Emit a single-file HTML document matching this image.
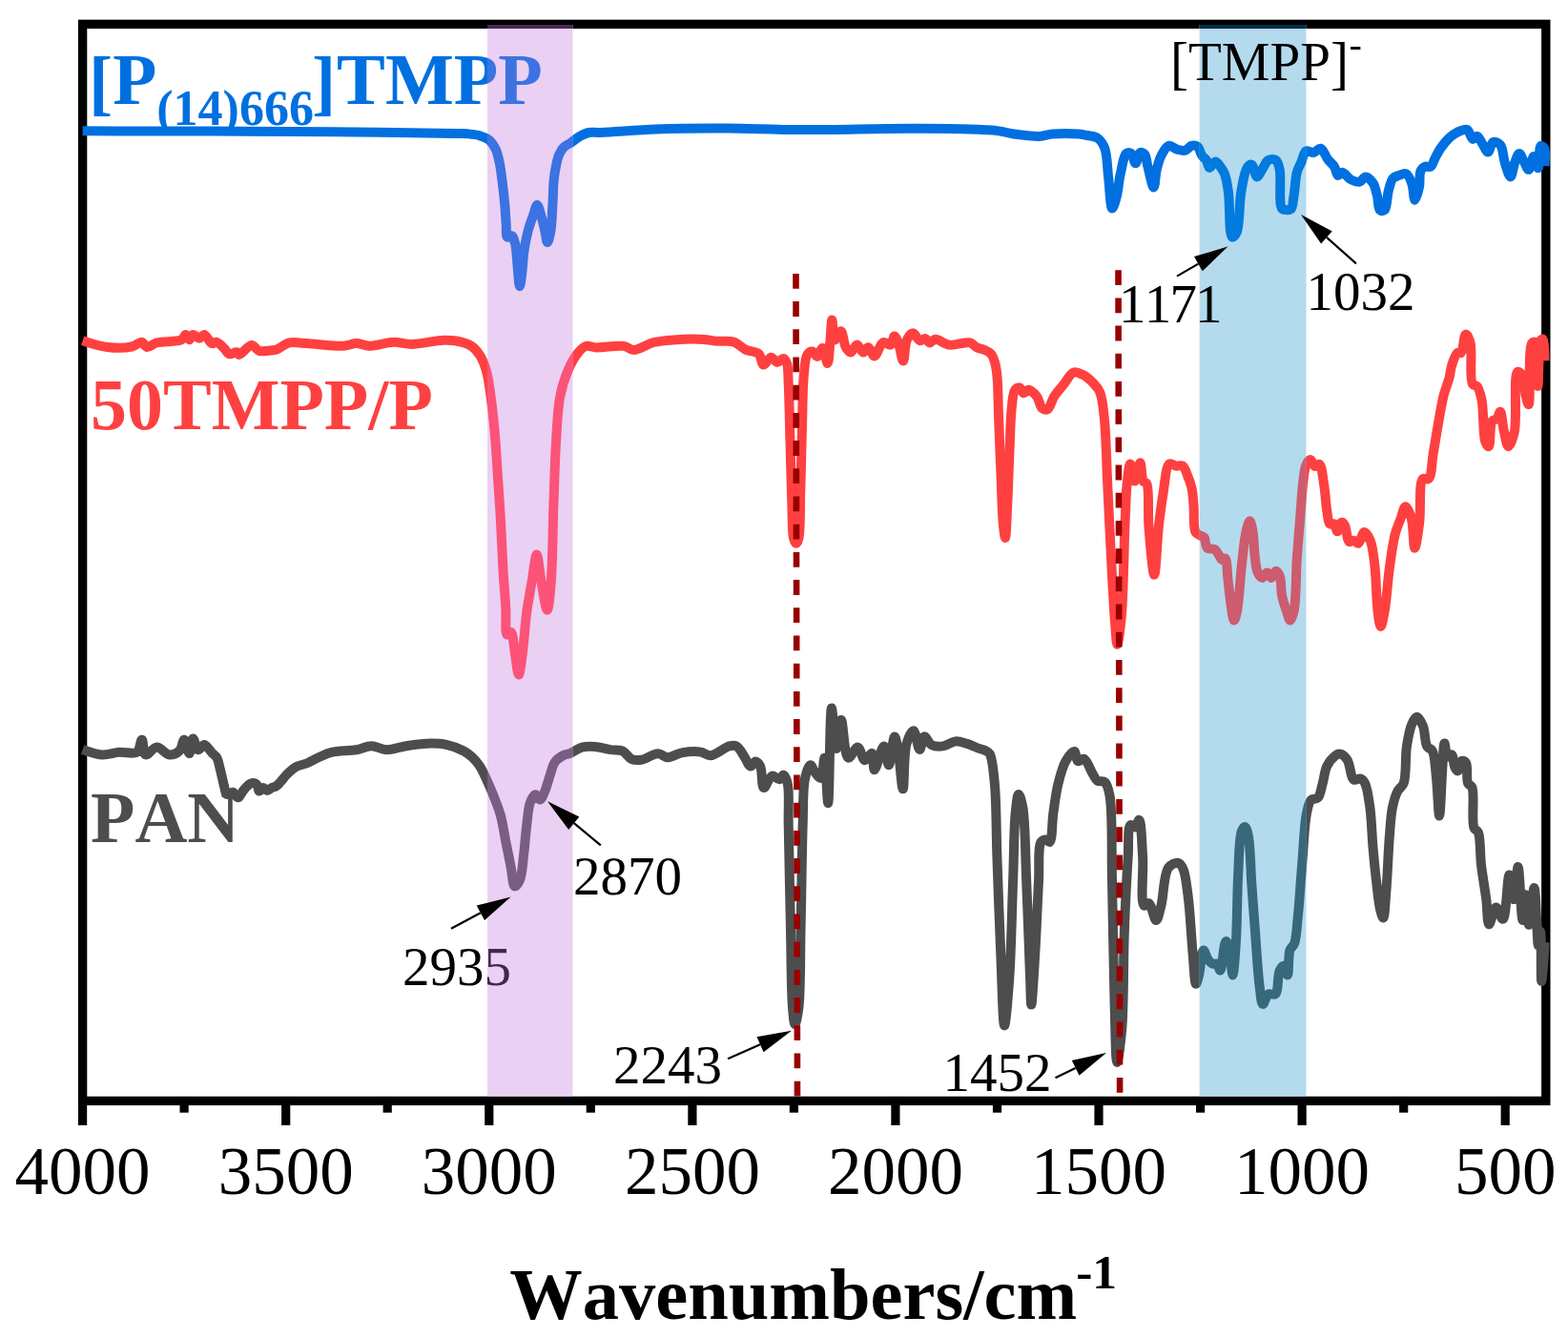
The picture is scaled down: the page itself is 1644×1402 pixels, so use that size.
<!DOCTYPE html><html><head><meta charset="utf-8"><title>FTIR</title>
<style>html,body{margin:0;padding:0;background:#fff;}svg{display:block;}text{font-family:'Liberation Serif','Times New Roman',serif;font-kerning:none;}</style></head><body>
<svg width="1644" height="1402" viewBox="0 0 1644 1402">
<rect x="0" y="0" width="1644" height="1402" fill="#fff"/>
<rect x="86.6" y="25.35" width="1534.2" height="1129.05" fill="none" stroke="#000" stroke-width="9.4"/>
<line x1="1578.2" y1="1155" x2="1578.2" y2="1180" stroke="#000" stroke-width="9.2"/>
<line x1="1471.7" y1="1155" x2="1471.7" y2="1166.7" stroke="#000" stroke-width="9.2"/>
<line x1="1365.1" y1="1155" x2="1365.1" y2="1180" stroke="#000" stroke-width="9.2"/>
<line x1="1258.6" y1="1155" x2="1258.6" y2="1166.7" stroke="#000" stroke-width="9.2"/>
<line x1="1152.0" y1="1155" x2="1152.0" y2="1180" stroke="#000" stroke-width="9.2"/>
<line x1="1045.5" y1="1155" x2="1045.5" y2="1166.7" stroke="#000" stroke-width="9.2"/>
<line x1="938.9" y1="1155" x2="938.9" y2="1180" stroke="#000" stroke-width="9.2"/>
<line x1="832.4" y1="1155" x2="832.4" y2="1166.7" stroke="#000" stroke-width="9.2"/>
<line x1="725.9" y1="1155" x2="725.9" y2="1180" stroke="#000" stroke-width="9.2"/>
<line x1="619.3" y1="1155" x2="619.3" y2="1166.7" stroke="#000" stroke-width="9.2"/>
<line x1="512.8" y1="1155" x2="512.8" y2="1180" stroke="#000" stroke-width="9.2"/>
<line x1="406.2" y1="1155" x2="406.2" y2="1166.7" stroke="#000" stroke-width="9.2"/>
<line x1="299.7" y1="1155" x2="299.7" y2="1180" stroke="#000" stroke-width="9.2"/>
<line x1="193.1" y1="1155" x2="193.1" y2="1166.7" stroke="#000" stroke-width="9.2"/>
<line x1="86.6" y1="1155" x2="86.6" y2="1180" stroke="#000" stroke-width="9.2"/>
<path d="M86.6,786.0 C86.6,786.0 100.3,791.0 106.9,791.4 C113.1,791.8 119.1,789.2 125.2,788.8 C131.3,788.4 139.6,791.4 143.5,788.8 C146.9,786.5 147.3,775.6 148.8,775.7 C150.4,775.8 149.9,790.3 152.7,791.4 C155.3,792.4 160.4,783.6 164.5,783.5 C168.7,783.4 173.4,791.0 177.6,791.4 C181.2,791.7 185.4,789.9 188.0,787.5 C190.8,784.9 191.5,775.6 193.2,775.7 C195.0,775.8 197.0,790.2 198.5,790.1 C200.1,790.0 200.8,774.5 202.4,774.4 C203.9,774.3 205.3,785.6 207.6,786.2 C209.4,786.7 212.0,780.7 214.2,780.9 C216.8,781.1 219.9,787.1 222.3,789.5 C224.1,791.4 225.9,792.1 227.2,794.3 C229.0,797.3 229.6,802.0 230.8,806.5 C232.2,811.9 233.8,819.9 235.1,824.7 C236.0,827.9 236.2,831.7 237.5,832.7 C238.3,833.3 239.5,832.9 240.5,832.7 C241.7,832.4 242.9,830.6 244.2,830.8 C245.9,831.1 248.0,836.4 249.7,836.3 C251.3,836.2 252.4,832.7 253.9,830.8 C255.5,828.8 256.9,826.3 258.8,824.7 C260.6,823.1 263.0,821.2 264.9,821.1 C266.6,821.0 268.6,822.2 269.7,823.5 C270.9,824.9 270.5,829.3 271.6,829.6 C272.6,829.9 274.4,826.1 275.8,826.0 C277.2,825.9 278.6,829.0 280.1,829.0 C281.7,829.0 283.4,826.7 285.0,826.0 C286.4,825.4 287.8,825.5 289.2,824.7 C290.9,823.7 292.4,821.7 294.1,819.9 C296.1,817.8 298.1,814.8 300.2,812.6 C302.1,810.6 304.2,808.7 306.2,807.1 C308.0,805.7 309.5,804.5 311.7,803.5 C314.4,802.2 318.0,801.9 321.4,800.5 C325.5,798.9 330.1,796.0 334.5,794.0 C338.8,792.1 342.4,790.1 347.6,788.8 C354.7,787.1 366.1,787.5 373.7,786.2 C379.6,785.2 384.2,782.2 389.4,782.2 C394.6,782.2 399.5,786.0 405.1,786.2 C411.5,786.4 418.6,783.3 426.0,782.2 C434.2,781.0 444.6,779.7 452.2,779.6 C458.1,779.6 462.5,779.7 467.9,780.9 C473.9,782.2 481.3,784.9 486.2,787.5 C489.8,789.4 492.3,791.4 495.0,793.9 C497.9,796.6 500.7,799.8 503.1,803.4 C505.7,807.4 507.6,812.0 509.9,816.9 C512.6,822.7 515.5,829.5 518.0,835.9 C520.5,842.2 522.9,847.9 524.8,854.8 C527.1,862.9 528.4,872.9 530.2,881.9 C532.0,890.9 533.9,900.6 535.6,909.0 C537.1,916.3 537.5,928.9 539.7,929.4 C541.1,929.7 543.7,925.9 545.1,922.6 C547.6,916.8 548.1,904.5 549.2,895.5 C550.3,886.5 550.8,877.4 551.9,868.4 C553.0,859.4 553.6,847.5 556.0,841.3 C557.4,837.6 559.6,833.3 561.4,833.2 C563.0,833.1 564.6,838.7 566.1,838.6 C567.8,838.4 569.4,833.8 570.9,830.5 C572.9,826.1 574.5,819.5 576.3,814.2 C578.1,809.1 579.1,803.1 581.7,799.3 C583.8,796.2 586.9,794.1 589.8,792.5 C592.4,791.1 595.0,791.0 598.0,789.8 C601.7,788.3 605.9,784.8 610.2,783.7 C614.5,782.6 619.0,782.7 623.7,783.0 C628.9,783.4 634.9,785.4 640.0,786.1 C644.4,786.8 648.8,785.8 652.5,787.4 C656.3,789.1 658.8,794.6 662.4,796.1 C665.5,797.4 668.7,797.3 672.4,796.8 C677.5,796.1 684.9,790.2 689.9,790.3 C693.7,790.3 696.2,794.2 699.9,794.3 C704.4,794.4 709.4,790.4 714.8,789.4 C720.9,788.3 729.4,787.7 734.8,788.6 C738.7,789.2 740.9,792.5 744.7,792.3 C750.3,792.0 759.5,783.6 764.7,782.4 C767.7,781.7 769.9,781.3 772.2,782.4 C775.1,783.8 777.3,788.8 779.7,792.3 C782.2,795.9 784.7,803.4 787.1,803.6 C788.8,803.8 790.4,798.6 792.1,798.6 C793.8,798.6 795.8,801.0 797.1,803.6 C799.5,808.2 798.3,825.4 800.8,826.0 C802.9,826.5 806.4,814.3 809.6,813.5 C812.0,812.9 815.0,817.7 817.1,817.3 C818.9,817.0 820.1,812.6 821.4,812.8 C823.0,813.0 824.7,817.3 825.7,821.4 C827.9,830.1 826.3,846.7 826.7,864.2 C827.3,891.8 828.1,937.4 828.9,971.1 C829.6,1001.2 829.5,1039.0 831.0,1056.7 C831.7,1064.7 832.4,1074.0 833.5,1074.0 C834.6,1074.0 836.4,1064.7 837.4,1056.7 C839.6,1039.1 838.9,1001.2 839.6,971.1 C840.4,937.4 840.8,892.6 841.7,864.2 C842.3,845.3 841.6,828.3 843.9,817.1 C845.2,810.6 847.4,802.5 849.5,802.3 C851.1,802.1 852.6,807.5 854.5,809.8 C856.4,812.1 859.1,816.5 860.7,816.0 C863.2,815.2 863.3,794.7 864.4,794.8 C866.0,794.9 867.1,842.2 868.2,842.2 C869.8,842.2 869.9,742.6 871.9,742.5 C873.2,742.4 875.1,784.9 876.9,784.9 C878.4,784.9 880.0,754.9 881.9,754.9 C884.1,754.9 885.0,793.6 889.4,794.8 C892.0,795.5 896.5,783.3 899.4,783.6 C902.3,783.9 904.0,796.9 906.8,797.3 C909.1,797.6 912.6,789.3 914.3,789.9 C916.5,790.6 915.1,807.1 916.8,807.3 C918.9,807.5 924.2,782.2 926.8,782.4 C929.0,782.6 930.1,802.3 931.8,802.3 C933.8,802.3 936.1,772.4 938.0,772.4 C939.3,772.4 940.5,781.2 941.7,787.4 C943.6,797.5 945.3,827.3 946.7,827.3 C948.3,827.3 947.3,790.7 950.5,779.9 C952.3,773.7 955.7,766.0 957.9,766.2 C960.4,766.4 962.2,786.1 964.2,786.1 C965.9,786.1 966.9,772.8 969.2,772.4 C971.2,772.0 973.5,779.4 976.7,781.1 C980.1,782.9 985.0,783.0 989.1,782.4 C993.3,781.8 997.4,777.8 1001.6,777.4 C1005.7,777.0 1010.0,778.7 1014.1,779.9 C1018.3,781.2 1023.0,783.6 1026.5,784.9 C1029.0,785.8 1031.1,786.0 1033.0,787.0 C1034.8,787.9 1036.4,788.3 1037.7,790.5 C1040.7,795.5 1041.5,808.7 1042.8,821.3 C1044.8,841.1 1044.4,870.8 1045.4,898.3 C1046.5,930.1 1047.9,969.5 1049.3,1001.0 C1050.5,1027.8 1051.4,1075.4 1053.1,1075.4 C1054.5,1075.4 1056.8,1046.0 1058.2,1026.7 C1060.2,998.8 1060.9,955.2 1062.1,924.0 C1063.1,897.9 1063.0,868.4 1064.7,852.1 C1065.6,843.6 1066.6,833.0 1068.0,832.9 C1069.2,832.8 1071.2,840.3 1072.4,847.0 C1075.1,862.3 1075.0,896.5 1076.2,924.0 C1077.6,955.8 1079.1,1003.5 1080.1,1026.7 C1080.6,1038.6 1080.7,1053.6 1081.3,1053.6 C1082.2,1053.6 1084.0,1020.2 1085.2,1001.0 C1086.6,977.8 1087.8,945.7 1089.0,924.0 C1089.9,908.2 1088.0,888.2 1091.6,882.9 C1092.9,880.9 1095.1,880.3 1096.7,880.4 C1098.1,880.5 1099.5,883.4 1100.6,882.9 C1103.4,881.6 1102.9,862.4 1104.4,852.1 C1105.9,841.8 1107.2,830.7 1109.6,821.3 C1111.7,813.0 1113.9,804.1 1117.3,798.2 C1119.8,793.8 1124.1,787.6 1126.3,788.0 C1128.2,788.4 1128.0,797.3 1130.1,798.2 C1131.7,798.9 1134.5,795.0 1136.5,795.7 C1139.8,796.8 1142.9,806.9 1145.5,811.1 C1147.4,814.1 1148.3,817.3 1150.6,818.8 C1152.7,820.2 1156.3,818.4 1158.3,820.1 C1161.1,822.4 1162.2,827.3 1163.5,834.2 C1166.7,851.0 1165.2,891.4 1166.0,924.0 C1166.9,963.0 1167.5,1017.3 1168.6,1052.3 C1169.4,1076.6 1169.6,1113.8 1171.2,1113.9 C1172.5,1114.0 1175.0,1093.1 1176.3,1078.0 C1178.4,1052.6 1177.7,1007.1 1178.9,975.3 C1179.9,947.8 1181.4,918.7 1182.7,898.3 C1183.6,884.9 1182.1,866.8 1185.3,865.0 C1186.6,864.3 1189.0,868.0 1190.4,867.5 C1192.1,866.9 1193.2,859.6 1194.3,859.8 C1196.6,860.2 1197.2,884.5 1198.1,898.3 C1199.1,914.2 1195.5,947.4 1199.4,949.7 C1200.7,950.5 1202.9,946.5 1204.5,947.1 C1207.4,948.2 1210.0,965.2 1212.2,965.1 C1214.2,965.0 1215.7,956.1 1217.4,949.7 C1220.1,939.6 1220.0,916.6 1225.1,909.9 C1227.8,906.4 1232.6,904.2 1235.3,904.8 C1237.6,905.3 1239.1,908.1 1240.5,911.2 C1243.2,917.1 1244.1,928.1 1245.6,939.4 C1247.8,955.9 1249.1,984.0 1250.7,1001.0 C1251.8,1013.0 1252.4,1031.6 1254.0,1031.8 C1254.9,1031.9 1256.1,1026.4 1257.1,1022.4 C1258.7,1016.0 1259.7,996.8 1261.8,996.5 C1263.1,996.3 1264.7,1003.4 1266.5,1005.9 C1267.9,1007.9 1269.5,1009.9 1271.2,1010.6 C1272.7,1011.2 1274.6,1009.8 1275.9,1010.6 C1277.5,1011.6 1278.3,1017.8 1279.4,1017.6 C1281.6,1017.3 1283.1,987.4 1285.3,987.1 C1286.4,986.9 1287.8,990.9 1288.8,994.1 C1290.7,1000.3 1291.3,1022.4 1292.4,1022.4 C1293.7,1022.4 1295.0,1000.9 1295.9,987.1 C1297.2,967.6 1297.0,937.3 1298.2,916.5 C1299.1,899.9 1299.1,878.9 1301.8,871.8 C1302.8,869.2 1304.3,867.0 1305.3,867.1 C1306.7,867.3 1307.8,872.0 1308.8,876.5 C1311.0,886.7 1311.2,911.4 1312.4,928.2 C1313.6,944.3 1314.6,958.7 1315.9,975.3 C1317.3,993.8 1318.7,1020.0 1320.6,1034.1 C1321.7,1042.1 1322.2,1052.6 1324.1,1052.9 C1325.6,1053.1 1327.4,1043.9 1330.0,1042.4 C1332.0,1041.2 1335.3,1043.9 1337.1,1042.4 C1340.6,1039.5 1339.3,1022.4 1341.8,1017.6 C1343.1,1015.1 1345.2,1012.6 1346.5,1012.9 C1348.1,1013.2 1349.1,1022.5 1350.0,1022.4 C1351.5,1022.2 1350.4,1002.3 1352.4,996.5 C1353.6,993.2 1355.9,992.7 1357.1,989.4 C1359.3,983.6 1359.5,973.9 1360.6,963.5 C1362.3,947.9 1363.7,923.7 1365.3,904.7 C1366.8,886.9 1367.5,864.6 1370.0,852.9 C1371.3,846.6 1372.1,841.4 1374.7,838.8 C1376.5,837.0 1380.0,838.3 1381.8,836.5 C1384.4,833.9 1385.0,827.5 1386.5,822.4 C1388.2,816.6 1388.8,808.5 1391.2,803.5 C1393.0,799.6 1395.7,796.3 1398.2,794.1 C1400.1,792.4 1402.0,790.5 1404.1,790.6 C1406.7,790.7 1410.1,793.4 1412.4,796.5 C1415.8,801.1 1415.9,815.5 1419.4,817.6 C1421.4,818.8 1424.5,815.8 1426.5,816.5 C1428.4,817.1 1429.8,818.8 1431.1,821.3 C1433.7,826.3 1435.0,837.3 1436.4,847.0 C1438.1,859.4 1438.4,876.5 1439.6,889.7 C1440.6,901.2 1441.6,911.1 1442.8,921.8 C1444.1,932.5 1445.3,946.7 1447.1,953.9 C1448.1,957.7 1449.4,962.6 1450.3,962.5 C1451.9,962.3 1452.5,943.9 1453.5,932.5 C1454.8,917.2 1455.5,894.5 1456.7,879.0 C1457.7,867.0 1458.1,855.9 1459.9,847.0 C1461.3,840.3 1462.9,834.4 1465.3,829.8 C1467.1,826.3 1470.1,825.5 1471.7,821.3 C1474.7,813.3 1473.2,794.0 1474.9,782.8 C1476.3,773.9 1477.8,764.8 1480.3,759.3 C1481.8,755.9 1483.8,751.8 1485.6,751.8 C1487.7,751.8 1490.3,757.4 1492.0,761.4 C1494.3,767.0 1493.7,778.6 1496.3,782.8 C1497.7,785.2 1500.3,784.6 1501.7,787.1 C1504.6,792.1 1504.7,804.7 1505.9,814.9 C1507.3,827.1 1508.1,855.5 1509.1,855.5 C1510.3,855.5 1511.4,818.2 1512.4,804.2 C1513.1,794.5 1513.4,779.7 1514.5,779.6 C1515.3,779.5 1515.8,792.6 1517.7,793.5 C1518.8,794.0 1520.9,790.8 1522.0,791.3 C1523.9,792.2 1523.7,801.2 1525.2,804.2 C1526.1,806.1 1527.4,808.5 1528.4,808.4 C1529.9,808.2 1530.8,798.5 1532.7,797.8 C1533.9,797.3 1535.9,798.3 1537.0,799.9 C1539.3,803.2 1537.1,817.1 1539.1,821.3 C1540.2,823.6 1542.3,823.1 1543.4,825.6 C1546.4,832.3 1542.5,861.6 1545.5,868.3 C1546.6,870.8 1548.7,870.2 1549.8,872.6 C1552.5,878.4 1551.6,895.2 1553.0,906.8 C1554.4,918.8 1556.9,932.1 1558.3,943.2 C1559.5,952.6 1559.2,968.9 1561.2,969.2 C1562.9,969.4 1565.9,951.8 1568.5,951.6 C1570.8,951.4 1573.8,964.1 1575.8,963.7 C1579.4,963.0 1580.3,917.6 1582.5,917.6 C1584.1,917.6 1585.9,943.1 1587.3,943.1 C1589.0,943.1 1590.2,909.1 1591.6,909.1 C1593.3,909.1 1594.9,964.9 1596.4,964.9 C1597.4,964.9 1598.3,938.2 1599.4,938.2 C1600.6,938.2 1601.7,969.8 1603.1,969.8 C1604.7,969.8 1607.1,930.9 1608.5,930.9 C1610.0,930.9 1610.8,963.4 1611.6,974.6 C1612.1,981.6 1612.2,991.6 1612.8,991.6 C1613.4,991.6 1614.6,977.0 1615.2,977.0 C1616.3,977.1 1615.3,1029.0 1616.2,1029.0 C1616.8,1029.0 1618.5,1007.6 1619.0,1000.0 C1619.3,995.1 1619.5,988.0 1619.5,988.0" fill="none" stroke="#4D4D4D" stroke-width="10" stroke-linejoin="round" stroke-linecap="butt"/>
<path d="M86.6,357.3 C86.6,357.3 103.6,363.0 112.2,364.0 C120.8,365.0 131.7,365.0 138.3,363.5 C142.7,362.5 146.0,358.3 148.8,358.8 C151.0,359.2 151.8,363.6 154.0,364.0 C156.8,364.5 160.1,360.5 164.5,359.3 C171.1,357.5 185.9,358.9 190.6,356.2 C193.0,354.9 193.3,350.9 194.6,350.9 C195.9,350.9 197.2,356.2 198.5,356.2 C199.8,356.2 200.7,351.2 202.4,350.9 C204.2,350.5 207.0,354.9 209.0,354.8 C210.9,354.7 212.4,350.7 214.2,350.9 C216.7,351.2 219.4,359.3 222.0,360.1 C223.7,360.7 225.4,358.4 227.2,358.8 C229.7,359.4 232.8,363.1 235.1,365.3 C237.1,367.3 238.1,370.6 240.3,371.3 C242.5,372.0 246.4,368.7 248.2,369.2 C249.4,369.5 249.5,371.8 250.8,371.9 C253.4,372.1 260.1,361.9 263.9,361.9 C266.8,361.9 268.9,367.0 271.7,367.9 C274.2,368.7 276.8,368.1 279.6,367.9 C282.8,367.7 286.4,367.8 290.0,366.6 C294.2,365.2 298.2,360.5 303.1,359.3 C308.5,358.0 314.2,359.7 321.4,360.1 C332.0,360.7 351.2,363.3 360.7,362.7 C366.2,362.3 369.4,360.1 373.7,360.1 C378.1,360.1 381.7,362.6 386.8,362.7 C394.0,362.9 405.0,358.9 413.0,358.8 C419.6,358.7 424.3,360.9 431.3,360.9 C440.9,360.9 456.6,357.0 465.3,356.7 C470.7,356.5 473.9,356.6 478.4,357.5 C483.5,358.5 489.9,360.0 494.1,362.7 C497.9,365.2 500.6,368.6 503.1,372.5 C506.0,377.0 508.0,382.3 509.9,388.8 C512.5,397.7 513.8,409.9 515.3,421.4 C517.0,434.2 518.3,448.4 519.4,462.0 C520.5,475.5 521.2,489.1 522.1,502.7 C523.0,516.3 524.0,528.9 524.8,543.4 C525.8,560.2 526.5,580.9 527.5,597.7 C528.4,612.2 529.6,626.1 530.3,638.3 C530.9,648.3 529.2,664.3 531.6,665.5 C532.6,666.0 534.6,662.3 535.7,662.8 C538.1,663.8 538.5,677.2 539.8,684.5 C541.2,692.1 542.5,707.5 543.8,707.5 C545.2,707.5 546.7,693.3 547.9,684.5 C549.5,672.9 550.3,656.6 552.0,643.8 C553.5,632.3 555.6,621.8 557.4,611.2 C559.2,601.0 561.2,581.4 562.8,581.4 C564.3,581.4 565.3,597.0 566.9,605.8 C568.8,616.2 571.9,639.8 573.7,639.7 C575.4,639.7 576.7,623.2 577.7,611.2 C579.4,591.1 579.5,555.8 580.4,529.9 C581.3,506.2 581.8,482.4 583.1,462.0 C584.2,445.1 584.6,429.1 587.2,415.9 C589.2,405.6 591.9,396.9 595.4,388.8 C598.4,381.7 602.4,374.3 606.2,369.8 C608.8,366.7 611.2,363.9 614.3,363.0 C617.5,362.1 620.7,364.2 625.2,364.4 C632.5,364.7 646.9,361.8 654.0,362.9 C658.5,363.6 660.4,366.9 664.5,366.9 C670.3,366.9 678.3,360.8 685.4,359.0 C692.3,357.3 698.6,356.9 706.3,356.4 C715.7,355.7 729.5,355.4 737.7,355.9 C743.0,356.2 746.1,357.3 750.8,357.7 C756.4,358.2 763.7,356.8 769.1,358.5 C774.1,360.1 777.7,364.8 782.2,366.9 C786.4,368.8 792.2,368.1 795.3,370.8 C798.3,373.4 798.2,382.1 800.5,382.5 C802.6,382.9 805.7,374.9 808.3,374.7 C810.5,374.6 812.7,379.8 814.9,379.9 C817.0,380.0 819.7,375.6 821.4,376.0 C823.0,376.3 824.1,378.6 825.0,381.0 C826.7,385.5 826.2,393.4 826.7,402.4 C827.5,417.7 827.9,443.9 828.5,464.7 C829.1,485.5 829.6,508.9 830.3,527.0 C830.8,541.1 830.4,557.8 832.1,564.5 C832.8,567.2 833.8,569.8 834.7,569.8 C835.6,569.8 836.7,567.3 837.4,564.5 C839.4,556.8 838.7,535.3 839.2,518.2 C839.9,497.0 840.4,469.0 841.0,446.9 C841.6,427.8 841.4,407.3 842.8,393.5 C843.7,384.7 843.8,376.0 846.3,372.1 C847.7,369.9 850.0,368.3 851.7,368.5 C853.6,368.7 855.3,374.1 857.0,373.9 C858.9,373.7 860.8,364.8 862.4,365.0 C864.5,365.2 866.4,381.1 867.7,381.0 C869.2,380.8 869.6,365.5 870.4,357.8 C871.2,350.3 871.6,335.5 872.4,335.5 C873.2,335.5 872.9,355.9 875.0,356.4 C876.5,356.8 879.8,346.9 881.6,347.2 C883.9,347.6 884.5,360.3 886.8,364.2 C888.3,366.7 890.2,369.6 892.0,369.5 C894.1,369.4 896.4,361.6 898.6,361.6 C900.8,361.6 903.0,369.4 905.1,369.5 C906.9,369.6 908.5,364.1 910.3,364.2 C912.5,364.4 914.6,373.5 916.9,373.4 C919.7,373.3 922.5,360.2 926.0,359.0 C928.4,358.1 932.0,362.5 933.9,361.6 C936.0,360.6 936.4,352.6 937.8,352.5 C939.0,352.4 940.5,356.1 941.7,359.0 C943.7,363.7 945.5,378.7 947.0,378.6 C948.6,378.5 948.4,361.5 950.9,356.4 C952.5,353.0 955.0,349.2 957.2,349.2 C959.5,349.2 962.0,356.6 964.5,357.2 C966.4,357.7 968.7,354.6 970.4,355.0 C972.1,355.4 973.1,359.2 974.7,359.4 C976.4,359.6 978.1,356.0 980.6,355.8 C984.3,355.5 989.7,360.8 995.2,361.6 C1001.7,362.5 1011.9,358.1 1017.1,359.4 C1020.4,360.3 1021.9,363.3 1024.4,364.5 C1026.7,365.6 1029.3,365.6 1031.7,366.7 C1034.2,367.8 1037.1,368.9 1039.0,371.1 C1041.2,373.6 1042.3,377.6 1043.4,381.3 C1044.6,385.5 1044.9,389.1 1045.5,395.0 C1046.5,405.4 1046.5,422.9 1047.1,438.4 C1047.8,456.1 1048.6,476.9 1049.4,495.5 C1050.2,513.4 1050.5,535.6 1051.7,548.0 C1052.3,554.9 1053.3,563.9 1054.0,563.9 C1055.0,563.9 1055.5,542.6 1056.2,529.7 C1057.1,513.1 1057.7,490.6 1058.5,472.7 C1059.2,456.6 1059.4,438.8 1060.8,427.0 C1061.7,419.5 1061.9,411.8 1064.2,408.8 C1065.4,407.2 1067.4,406.2 1068.8,406.5 C1070.5,406.9 1071.7,412.0 1073.3,412.2 C1074.7,412.4 1076.1,408.8 1077.9,408.8 C1080.4,408.8 1084.6,412.6 1087.0,415.6 C1089.7,418.9 1090.2,426.2 1092.7,428.2 C1094.3,429.5 1096.7,430.1 1098.4,429.3 C1101.2,427.9 1102.6,419.8 1105.3,415.6 C1107.9,411.5 1111.2,408.2 1114.4,404.2 C1118.0,399.8 1121.8,391.8 1125.8,390.5 C1128.7,389.5 1131.9,391.3 1135.0,392.8 C1138.8,394.7 1143.3,398.6 1146.4,401.9 C1149.2,404.8 1151.4,406.9 1153.2,411.1 C1155.9,417.6 1156.6,427.2 1157.8,438.4 C1159.7,456.0 1160.0,482.4 1161.2,506.9 C1162.6,535.2 1164.2,571.3 1165.7,598.2 C1166.9,619.4 1168.0,641.0 1169.2,655.2 C1169.9,663.8 1170.5,675.7 1171.5,675.7 C1172.7,675.7 1174.8,657.2 1176.0,643.8 C1178.0,621.2 1178.3,577.7 1179.4,552.5 C1180.2,534.7 1180.4,519.1 1181.7,506.9 C1182.6,498.7 1183.7,486.5 1185.1,486.4 C1186.4,486.3 1188.0,504.6 1189.7,504.6 C1191.4,504.6 1193.9,485.1 1195.4,485.2 C1196.9,485.3 1196.7,501.4 1198.8,504.6 C1199.7,506.1 1201.3,505.3 1202.2,506.9 C1205.3,512.4 1203.2,537.0 1204.5,552.5 C1205.8,568.9 1208.5,602.7 1210.2,602.7 C1211.9,602.7 1213.1,567.6 1214.8,552.5 C1216.2,540.0 1217.5,529.5 1219.4,518.3 C1221.3,507.4 1222.2,488.7 1226.2,486.4 C1228.1,485.3 1230.8,488.2 1233.1,488.6 C1235.3,488.9 1238.0,487.4 1239.9,488.6 C1242.5,490.2 1244.0,496.1 1245.6,500.0 C1247.2,503.9 1248.5,507.5 1249.5,512.0 C1250.7,517.3 1250.9,523.3 1251.5,530.0 C1252.3,538.3 1250.7,553.1 1253.5,558.0 C1254.9,560.5 1257.7,561.0 1259.4,562.0 C1260.6,562.7 1261.6,562.5 1262.5,563.5 C1264.1,565.4 1263.5,572.5 1265.7,574.5 C1267.5,576.2 1271.4,574.8 1273.5,576.1 C1275.6,577.4 1276.8,580.4 1278.2,582.4 C1279.4,584.1 1280.2,586.8 1281.4,587.1 C1282.3,587.3 1283.6,585.1 1284.5,585.5 C1286.7,586.7 1286.6,600.9 1287.6,609.0 C1288.7,617.6 1289.6,628.1 1290.8,635.7 C1291.7,641.4 1292.7,650.5 1293.9,650.6 C1294.9,650.6 1296.1,645.1 1297.1,640.4 C1299.1,630.5 1300.1,607.9 1301.8,593.3 C1303.3,580.5 1304.5,565.8 1306.5,557.3 C1307.7,552.5 1309.2,546.3 1310.4,546.3 C1311.6,546.3 1312.7,552.7 1313.5,557.3 C1314.8,564.5 1314.8,577.5 1315.9,585.5 C1316.7,591.5 1317.1,597.7 1319.0,601.2 C1320.2,603.5 1322.2,606.0 1323.7,605.9 C1325.3,605.8 1326.8,600.4 1328.4,600.4 C1330.0,600.4 1331.6,606.0 1333.1,605.9 C1334.7,605.8 1336.3,598.8 1337.8,598.8 C1339.2,598.8 1340.8,601.7 1341.8,604.3 C1343.6,608.8 1342.8,618.4 1344.1,624.7 C1345.3,630.3 1347.2,635.8 1348.8,640.4 C1350.1,644.2 1351.4,650.6 1352.7,650.6 C1354.0,650.6 1355.6,645.3 1356.7,640.4 C1359.1,629.5 1358.7,602.3 1359.8,585.5 C1360.8,571.3 1361.9,559.4 1362.9,546.3 C1364.0,533.2 1364.8,517.8 1366.1,507.1 C1367.0,499.6 1367.3,492.6 1369.2,488.2 C1370.4,485.4 1372.4,482.0 1373.9,482.0 C1375.5,482.0 1376.8,488.5 1378.6,489.0 C1380.0,489.4 1382.0,486.1 1383.3,486.7 C1385.9,487.9 1386.7,499.7 1388.0,507.1 C1389.5,515.7 1389.9,527.5 1391.2,535.3 C1392.1,540.8 1392.2,547.7 1394.3,549.4 C1395.5,550.4 1397.8,548.6 1399.0,549.4 C1400.7,550.5 1401.0,557.3 1402.2,557.3 C1403.6,557.4 1405.3,548.0 1406.9,547.8 C1407.9,547.6 1409.1,549.3 1410.0,551.0 C1411.9,554.3 1412.2,566.8 1414.7,568.2 C1416.0,568.9 1417.9,566.5 1419.4,566.7 C1421.0,566.9 1422.6,570.2 1424.1,569.8 C1426.4,569.2 1428.2,558.2 1430.4,558.0 C1432.4,557.9 1435.0,562.8 1436.7,566.7 C1439.3,572.9 1440.2,583.1 1441.4,593.3 C1443.0,606.7 1443.0,628.7 1444.5,640.4 C1445.4,647.4 1446.4,657.0 1447.6,657.0 C1448.8,657.0 1450.5,647.2 1451.8,640.3 C1453.8,629.2 1454.8,610.6 1456.7,596.7 C1458.5,584.0 1460.2,570.1 1462.7,560.3 C1464.5,553.5 1466.8,548.5 1468.8,543.3 C1470.5,538.9 1471.8,531.3 1473.6,531.2 C1475.4,531.1 1478.2,538.1 1479.7,543.3 C1482.1,551.2 1481.8,574.7 1483.3,574.8 C1484.7,574.8 1486.9,558.3 1488.2,548.2 C1489.9,535.0 1487.4,506.2 1491.8,502.1 C1493.4,500.6 1496.3,503.5 1497.9,502.1 C1501.3,499.2 1501.1,484.6 1502.7,475.5 C1504.4,466.0 1505.8,456.3 1507.6,446.4 C1509.4,436.1 1511.3,424.0 1513.6,414.8 C1515.4,407.5 1518.2,401.2 1519.7,395.5 C1520.8,391.0 1520.8,387.4 1522.1,383.3 C1523.5,378.9 1525.9,371.5 1528.2,370.0 C1529.3,369.3 1530.8,370.8 1531.8,370.0 C1534.3,368.1 1534.7,350.9 1536.7,350.6 C1538.1,350.4 1540.3,355.0 1541.5,359.1 C1544.1,367.8 1540.3,397.2 1543.9,402.7 C1545.2,404.7 1547.4,403.6 1548.8,405.2 C1551.1,407.9 1552.3,413.5 1553.6,419.7 C1555.8,430.2 1554.6,456.2 1557.3,463.3 C1558.3,466.0 1559.9,468.5 1560.9,468.2 C1563.0,467.7 1561.6,445.5 1564.5,441.5 C1565.8,439.7 1568.1,440.4 1569.4,439.1 C1571.0,437.5 1572.0,431.7 1573.0,431.8 C1574.6,432.0 1575.2,445.0 1576.7,451.2 C1578.1,457.1 1579.6,468.1 1581.5,468.2 C1583.3,468.3 1586.2,460.0 1587.8,453.0 C1590.9,439.3 1586.6,391.9 1591.0,389.9 C1592.4,389.3 1595.0,391.8 1596.4,394.2 C1598.8,398.3 1598.3,409.5 1599.7,415.0 C1600.6,418.7 1601.9,424.2 1602.8,424.1 C1605.0,423.8 1602.0,365.3 1606.0,360.0 C1606.9,358.8 1608.3,358.3 1609.2,358.9 C1612.5,361.1 1611.3,404.9 1612.4,404.9 C1613.5,404.9 1612.7,360.9 1615.6,356.7 C1616.2,355.8 1617.2,355.3 1617.8,355.7 C1619.6,356.8 1619.4,378.1 1619.4,378.1" fill="none" stroke="#FF4040" stroke-width="10" stroke-linejoin="round" stroke-linecap="butt"/>
<path d="M86.6,137.3 C86.6,137.3 128.2,137.5 150.0,137.5 C173.2,137.5 194.7,137.4 222.0,137.5 C258.1,137.6 305.3,137.8 347.6,138.2 C390.7,138.6 457.8,139.6 478.0,140.0 C484.1,140.1 485.9,139.9 490.0,140.3 C494.4,140.7 499.5,141.1 503.5,142.4 C507.0,143.5 510.3,144.7 513.0,147.0 C515.8,149.4 518.0,152.9 519.8,156.6 C521.8,160.9 522.8,166.2 523.9,171.5 C525.1,177.4 525.7,183.8 526.6,190.5 C527.6,198.1 528.6,207.1 529.3,214.9 C529.9,222.0 530.2,229.1 530.7,235.2 C531.1,240.2 530.2,247.4 532.0,248.7 C533.1,249.5 535.5,246.8 536.8,247.4 C538.5,248.2 539.2,251.9 540.1,255.5 C541.7,261.8 542.0,274.5 542.9,282.6 C543.6,289.1 544.1,300.2 544.9,300.2 C545.5,300.2 546.3,293.8 546.9,289.4 C547.9,282.4 548.3,270.7 549.6,262.3 C550.7,255.0 552.0,248.3 553.7,242.0 C555.2,236.2 557.4,230.6 559.1,225.7 C560.5,221.7 561.8,214.9 563.2,214.9 C564.5,214.9 566.0,221.7 567.2,225.7 C568.7,230.5 570.1,237.0 571.3,242.0 C572.3,246.4 573.0,254.2 574.0,254.2 C575.0,254.2 576.5,246.9 577.4,242.0 C578.7,234.8 578.8,223.9 579.4,214.9 C580.0,205.9 579.9,195.7 580.8,187.8 C581.5,181.7 582.5,176.2 583.5,171.5 C584.3,167.9 584.8,164.9 586.2,162.0 C587.5,159.1 589.4,156.0 591.6,153.9 C593.6,152.0 596.0,151.4 598.4,149.8 C601.3,147.9 604.6,144.8 607.9,143.0 C611.0,141.3 613.9,139.7 617.4,139.0 C621.2,138.2 624.3,139.2 630.0,139.0 C642.3,138.6 667.9,136.2 688.0,135.4 C709.8,134.6 732.1,134.3 756.0,134.4 C782.8,134.5 810.3,136.0 841.0,136.1 C877.5,136.3 924.1,134.5 960.6,134.8 C991.4,135.0 1028.2,135.1 1045.7,137.1 C1053.6,138.0 1056.4,139.6 1062.8,140.5 C1070.8,141.6 1082.5,143.2 1090.0,142.9 C1095.3,142.7 1098.3,141.0 1103.6,140.5 C1111.1,139.8 1124.3,140.0 1130.9,140.5 C1134.8,140.8 1136.8,141.3 1140.0,142.0 C1143.5,142.8 1148.0,142.9 1151.0,145.0 C1154.1,147.2 1156.4,150.7 1158.2,155.3 C1161.0,162.5 1160.8,175.1 1162.1,185.4 C1163.4,196.2 1164.1,218.4 1166.1,218.6 C1167.4,218.8 1169.5,210.9 1170.8,205.9 C1172.6,199.3 1173.0,189.8 1174.8,182.2 C1176.5,174.8 1178.1,163.1 1181.1,160.8 C1182.5,159.8 1184.5,159.9 1185.9,160.8 C1188.0,162.2 1189.0,171.1 1190.6,171.1 C1192.2,171.1 1193.3,160.9 1195.4,160.0 C1196.8,159.4 1198.9,160.3 1200.1,161.6 C1202.1,163.7 1202.0,169.5 1203.3,174.3 C1205.0,180.7 1208.0,196.5 1209.6,196.4 C1211.1,196.3 1211.4,183.2 1212.8,177.4 C1214.1,172.3 1215.3,167.4 1217.5,163.2 C1219.6,159.3 1222.3,153.7 1225.4,152.9 C1228.2,152.2 1231.8,156.1 1234.9,156.9 C1237.6,157.6 1240.4,158.4 1242.8,157.7 C1245.2,157.0 1246.9,153.5 1249.1,152.9 C1251.1,152.4 1253.8,152.5 1255.5,153.7 C1257.7,155.3 1258.4,160.7 1260.2,163.2 C1261.6,165.2 1263.6,166.1 1264.9,168.0 C1266.3,170.2 1266.6,175.6 1268.1,175.9 C1269.7,176.2 1272.4,169.5 1274.4,169.5 C1276.1,169.5 1277.7,172.4 1279.2,174.3 C1280.9,176.5 1282.6,178.9 1283.9,182.2 C1285.8,187.0 1286.8,193.4 1287.9,201.2 C1289.7,213.4 1288.4,247.3 1291.8,248.6 C1293.1,249.1 1295.3,246.6 1296.6,243.9 C1299.9,237.0 1299.1,213.5 1301.3,201.2 C1303.0,191.6 1304.6,180.1 1307.6,175.9 C1309.0,173.9 1311.0,172.3 1312.4,172.7 C1314.6,173.4 1315.9,185.2 1317.9,185.4 C1319.6,185.6 1321.6,180.2 1323.5,177.4 C1325.6,174.4 1327.1,169.4 1329.8,168.0 C1332.0,166.8 1335.8,166.7 1337.7,168.0 C1339.9,169.5 1340.6,173.0 1341.6,177.4 C1343.6,186.2 1340.4,214.0 1344.0,218.6 C1345.3,220.2 1347.2,220.0 1348.8,220.1 C1350.4,220.2 1352.3,220.5 1353.5,219.4 C1355.7,217.3 1355.7,209.9 1356.7,204.3 C1357.9,197.3 1358.1,186.9 1359.8,180.6 C1361.0,176.1 1363.0,173.2 1364.6,169.5 C1366.2,165.8 1366.8,159.8 1369.3,158.5 C1371.3,157.4 1374.7,160.4 1377.2,160.0 C1379.8,159.6 1382.3,155.2 1384.6,155.7 C1387.5,156.4 1389.6,163.8 1392.2,167.1 C1394.4,170.0 1397.2,171.9 1399.0,174.7 C1400.8,177.5 1401.1,183.4 1402.8,183.9 C1404.1,184.3 1405.6,180.7 1407.4,180.8 C1410.0,180.9 1413.3,186.8 1416.5,188.4 C1419.4,189.9 1423.0,191.3 1425.6,190.7 C1428.0,190.1 1429.5,185.4 1431.7,185.4 C1434.1,185.4 1437.3,188.7 1439.3,191.5 C1441.7,194.9 1442.6,200.5 1443.9,205.2 C1445.2,210.1 1444.7,218.6 1446.9,220.4 C1448.1,221.4 1450.2,221.4 1451.5,220.4 C1454.3,218.2 1454.2,205.2 1456.0,199.1 C1457.4,194.4 1458.3,189.4 1460.6,186.9 C1462.2,185.1 1464.5,184.7 1466.7,183.9 C1469.0,183.1 1472.2,181.3 1474.3,182.3 C1477.0,183.5 1478.9,188.9 1480.4,193.0 C1482.1,197.8 1482.1,209.6 1483.4,209.7 C1484.6,209.8 1487.0,200.9 1488.0,196.0 C1489.1,190.8 1487.8,183.0 1489.5,179.3 C1490.5,177.0 1492.2,175.5 1494.0,174.7 C1495.8,174.0 1498.4,175.7 1500.1,174.7 C1502.3,173.4 1503.0,168.7 1504.7,165.6 C1506.5,162.2 1508.4,158.4 1510.8,155.0 C1513.4,151.3 1516.7,147.2 1519.9,144.3 C1522.8,141.7 1525.8,139.6 1529.0,138.2 C1531.9,136.9 1535.7,135.0 1538.2,136.0 C1540.9,137.1 1542.1,145.4 1544.2,145.9 C1545.7,146.2 1547.3,142.5 1548.8,142.8 C1550.9,143.2 1552.9,149.0 1554.9,151.9 C1556.7,154.6 1558.5,159.6 1560.2,159.5 C1562.1,159.4 1563.0,149.8 1565.5,148.9 C1567.5,148.1 1571.2,149.7 1573.1,151.9 C1576.0,155.2 1575.8,164.4 1577.7,170.2 C1579.4,175.6 1582.0,185.5 1583.8,185.4 C1585.5,185.3 1586.6,174.6 1588.3,170.2 C1589.7,166.7 1591.3,161.2 1592.9,161.1 C1594.4,161.0 1595.9,166.0 1597.5,168.7 C1599.2,171.6 1601.2,177.9 1602.8,177.8 C1604.7,177.6 1606.4,164.1 1608.1,164.1 C1609.7,164.1 1611.5,176.4 1612.7,176.3 C1614.3,176.1 1613.3,153.9 1615.5,153.0 C1616.5,152.6 1618.5,154.3 1619.3,156.0 C1620.9,159.3 1619.5,174.0 1619.5,174.0" fill="none" stroke="#0070E0" stroke-width="10" stroke-linejoin="round" stroke-linecap="butt"/>
<text x="93" y="108.6" font-size="75.5" font-weight="bold" fill="#0070E0"><tspan dy="3.5">[</tspan><tspan dy="-3.5">P</tspan><tspan font-size="52" dy="22.6">(14)666</tspan><tspan dx="-2" dy="-19.1">]</tspan><tspan dx="1" dy="-3.5" font-size="76.2">TMPP</tspan></text>
<text x="95" y="450.3" font-size="76" font-weight="bold" fill="#FF4040">50TMPP/P</text>
<text x="95" y="883" font-size="76" font-weight="bold" fill="#4D4D4D">PAN</text>
<text x="422" y="1032.6" font-size="57" fill="#000">2935</text>
<clipPath id="cp"><rect x="510.9" y="26" width="89.8" height="1123.6"/></clipPath>
<clipPath id="cl"><rect x="1257.4" y="26" width="112.3" height="1123.6"/></clipPath>
<g clip-path="url(#cp)">
<rect x="510.9" y="26" width="89.8" height="1123.6" fill="rgb(234,208,243)"/>
<rect x="510.9" y="26" width="89.8" height="4.05" fill="rgb(72,40,82)"/>
<path d="M86.6,786.0 C86.6,786.0 100.3,791.0 106.9,791.4 C113.1,791.8 119.1,789.2 125.2,788.8 C131.3,788.4 139.6,791.4 143.5,788.8 C146.9,786.5 147.3,775.6 148.8,775.7 C150.4,775.8 149.9,790.3 152.7,791.4 C155.3,792.4 160.4,783.6 164.5,783.5 C168.7,783.4 173.4,791.0 177.6,791.4 C181.2,791.7 185.4,789.9 188.0,787.5 C190.8,784.9 191.5,775.6 193.2,775.7 C195.0,775.8 197.0,790.2 198.5,790.1 C200.1,790.0 200.8,774.5 202.4,774.4 C203.9,774.3 205.3,785.6 207.6,786.2 C209.4,786.7 212.0,780.7 214.2,780.9 C216.8,781.1 219.9,787.1 222.3,789.5 C224.1,791.4 225.9,792.1 227.2,794.3 C229.0,797.3 229.6,802.0 230.8,806.5 C232.2,811.9 233.8,819.9 235.1,824.7 C236.0,827.9 236.2,831.7 237.5,832.7 C238.3,833.3 239.5,832.9 240.5,832.7 C241.7,832.4 242.9,830.6 244.2,830.8 C245.9,831.1 248.0,836.4 249.7,836.3 C251.3,836.2 252.4,832.7 253.9,830.8 C255.5,828.8 256.9,826.3 258.8,824.7 C260.6,823.1 263.0,821.2 264.9,821.1 C266.6,821.0 268.6,822.2 269.7,823.5 C270.9,824.9 270.5,829.3 271.6,829.6 C272.6,829.9 274.4,826.1 275.8,826.0 C277.2,825.9 278.6,829.0 280.1,829.0 C281.7,829.0 283.4,826.7 285.0,826.0 C286.4,825.4 287.8,825.5 289.2,824.7 C290.9,823.7 292.4,821.7 294.1,819.9 C296.1,817.8 298.1,814.8 300.2,812.6 C302.1,810.6 304.2,808.7 306.2,807.1 C308.0,805.7 309.5,804.5 311.7,803.5 C314.4,802.2 318.0,801.9 321.4,800.5 C325.5,798.9 330.1,796.0 334.5,794.0 C338.8,792.1 342.4,790.1 347.6,788.8 C354.7,787.1 366.1,787.5 373.7,786.2 C379.6,785.2 384.2,782.2 389.4,782.2 C394.6,782.2 399.5,786.0 405.1,786.2 C411.5,786.4 418.6,783.3 426.0,782.2 C434.2,781.0 444.6,779.7 452.2,779.6 C458.1,779.6 462.5,779.7 467.9,780.9 C473.9,782.2 481.3,784.9 486.2,787.5 C489.8,789.4 492.3,791.4 495.0,793.9 C497.9,796.6 500.7,799.8 503.1,803.4 C505.7,807.4 507.6,812.0 509.9,816.9 C512.6,822.7 515.5,829.5 518.0,835.9 C520.5,842.2 522.9,847.9 524.8,854.8 C527.1,862.9 528.4,872.9 530.2,881.9 C532.0,890.9 533.9,900.6 535.6,909.0 C537.1,916.3 537.5,928.9 539.7,929.4 C541.1,929.7 543.7,925.9 545.1,922.6 C547.6,916.8 548.1,904.5 549.2,895.5 C550.3,886.5 550.8,877.4 551.9,868.4 C553.0,859.4 553.6,847.5 556.0,841.3 C557.4,837.6 559.6,833.3 561.4,833.2 C563.0,833.1 564.6,838.7 566.1,838.6 C567.8,838.4 569.4,833.8 570.9,830.5 C572.9,826.1 574.5,819.5 576.3,814.2 C578.1,809.1 579.1,803.1 581.7,799.3 C583.8,796.2 586.9,794.1 589.8,792.5 C592.4,791.1 595.0,791.0 598.0,789.8 C601.7,788.3 605.9,784.8 610.2,783.7 C614.5,782.6 619.0,782.7 623.7,783.0 C628.9,783.4 634.9,785.4 640.0,786.1 C644.4,786.8 648.8,785.8 652.5,787.4 C656.3,789.1 658.8,794.6 662.4,796.1 C665.5,797.4 668.7,797.3 672.4,796.8 C677.5,796.1 684.9,790.2 689.9,790.3 C693.7,790.3 696.2,794.2 699.9,794.3 C704.4,794.4 709.4,790.4 714.8,789.4 C720.9,788.3 729.4,787.7 734.8,788.6 C738.7,789.2 740.9,792.5 744.7,792.3 C750.3,792.0 759.5,783.6 764.7,782.4 C767.7,781.7 769.9,781.3 772.2,782.4 C775.1,783.8 777.3,788.8 779.7,792.3 C782.2,795.9 784.7,803.4 787.1,803.6 C788.8,803.8 790.4,798.6 792.1,798.6 C793.8,798.6 795.8,801.0 797.1,803.6 C799.5,808.2 798.3,825.4 800.8,826.0 C802.9,826.5 806.4,814.3 809.6,813.5 C812.0,812.9 815.0,817.7 817.1,817.3 C818.9,817.0 820.1,812.6 821.4,812.8 C823.0,813.0 824.7,817.3 825.7,821.4 C827.9,830.1 826.3,846.7 826.7,864.2 C827.3,891.8 828.1,937.4 828.9,971.1 C829.6,1001.2 829.5,1039.0 831.0,1056.7 C831.7,1064.7 832.4,1074.0 833.5,1074.0 C834.6,1074.0 836.4,1064.7 837.4,1056.7 C839.6,1039.1 838.9,1001.2 839.6,971.1 C840.4,937.4 840.8,892.6 841.7,864.2 C842.3,845.3 841.6,828.3 843.9,817.1 C845.2,810.6 847.4,802.5 849.5,802.3 C851.1,802.1 852.6,807.5 854.5,809.8 C856.4,812.1 859.1,816.5 860.7,816.0 C863.2,815.2 863.3,794.7 864.4,794.8 C866.0,794.9 867.1,842.2 868.2,842.2 C869.8,842.2 869.9,742.6 871.9,742.5 C873.2,742.4 875.1,784.9 876.9,784.9 C878.4,784.9 880.0,754.9 881.9,754.9 C884.1,754.9 885.0,793.6 889.4,794.8 C892.0,795.5 896.5,783.3 899.4,783.6 C902.3,783.9 904.0,796.9 906.8,797.3 C909.1,797.6 912.6,789.3 914.3,789.9 C916.5,790.6 915.1,807.1 916.8,807.3 C918.9,807.5 924.2,782.2 926.8,782.4 C929.0,782.6 930.1,802.3 931.8,802.3 C933.8,802.3 936.1,772.4 938.0,772.4 C939.3,772.4 940.5,781.2 941.7,787.4 C943.6,797.5 945.3,827.3 946.7,827.3 C948.3,827.3 947.3,790.7 950.5,779.9 C952.3,773.7 955.7,766.0 957.9,766.2 C960.4,766.4 962.2,786.1 964.2,786.1 C965.9,786.1 966.9,772.8 969.2,772.4 C971.2,772.0 973.5,779.4 976.7,781.1 C980.1,782.9 985.0,783.0 989.1,782.4 C993.3,781.8 997.4,777.8 1001.6,777.4 C1005.7,777.0 1010.0,778.7 1014.1,779.9 C1018.3,781.2 1023.0,783.6 1026.5,784.9 C1029.0,785.8 1031.1,786.0 1033.0,787.0 C1034.8,787.9 1036.4,788.3 1037.7,790.5 C1040.7,795.5 1041.5,808.7 1042.8,821.3 C1044.8,841.1 1044.4,870.8 1045.4,898.3 C1046.5,930.1 1047.9,969.5 1049.3,1001.0 C1050.5,1027.8 1051.4,1075.4 1053.1,1075.4 C1054.5,1075.4 1056.8,1046.0 1058.2,1026.7 C1060.2,998.8 1060.9,955.2 1062.1,924.0 C1063.1,897.9 1063.0,868.4 1064.7,852.1 C1065.6,843.6 1066.6,833.0 1068.0,832.9 C1069.2,832.8 1071.2,840.3 1072.4,847.0 C1075.1,862.3 1075.0,896.5 1076.2,924.0 C1077.6,955.8 1079.1,1003.5 1080.1,1026.7 C1080.6,1038.6 1080.7,1053.6 1081.3,1053.6 C1082.2,1053.6 1084.0,1020.2 1085.2,1001.0 C1086.6,977.8 1087.8,945.7 1089.0,924.0 C1089.9,908.2 1088.0,888.2 1091.6,882.9 C1092.9,880.9 1095.1,880.3 1096.7,880.4 C1098.1,880.5 1099.5,883.4 1100.6,882.9 C1103.4,881.6 1102.9,862.4 1104.4,852.1 C1105.9,841.8 1107.2,830.7 1109.6,821.3 C1111.7,813.0 1113.9,804.1 1117.3,798.2 C1119.8,793.8 1124.1,787.6 1126.3,788.0 C1128.2,788.4 1128.0,797.3 1130.1,798.2 C1131.7,798.9 1134.5,795.0 1136.5,795.7 C1139.8,796.8 1142.9,806.9 1145.5,811.1 C1147.4,814.1 1148.3,817.3 1150.6,818.8 C1152.7,820.2 1156.3,818.4 1158.3,820.1 C1161.1,822.4 1162.2,827.3 1163.5,834.2 C1166.7,851.0 1165.2,891.4 1166.0,924.0 C1166.9,963.0 1167.5,1017.3 1168.6,1052.3 C1169.4,1076.6 1169.6,1113.8 1171.2,1113.9 C1172.5,1114.0 1175.0,1093.1 1176.3,1078.0 C1178.4,1052.6 1177.7,1007.1 1178.9,975.3 C1179.9,947.8 1181.4,918.7 1182.7,898.3 C1183.6,884.9 1182.1,866.8 1185.3,865.0 C1186.6,864.3 1189.0,868.0 1190.4,867.5 C1192.1,866.9 1193.2,859.6 1194.3,859.8 C1196.6,860.2 1197.2,884.5 1198.1,898.3 C1199.1,914.2 1195.5,947.4 1199.4,949.7 C1200.7,950.5 1202.9,946.5 1204.5,947.1 C1207.4,948.2 1210.0,965.2 1212.2,965.1 C1214.2,965.0 1215.7,956.1 1217.4,949.7 C1220.1,939.6 1220.0,916.6 1225.1,909.9 C1227.8,906.4 1232.6,904.2 1235.3,904.8 C1237.6,905.3 1239.1,908.1 1240.5,911.2 C1243.2,917.1 1244.1,928.1 1245.6,939.4 C1247.8,955.9 1249.1,984.0 1250.7,1001.0 C1251.8,1013.0 1252.4,1031.6 1254.0,1031.8 C1254.9,1031.9 1256.1,1026.4 1257.1,1022.4 C1258.7,1016.0 1259.7,996.8 1261.8,996.5 C1263.1,996.3 1264.7,1003.4 1266.5,1005.9 C1267.9,1007.9 1269.5,1009.9 1271.2,1010.6 C1272.7,1011.2 1274.6,1009.8 1275.9,1010.6 C1277.5,1011.6 1278.3,1017.8 1279.4,1017.6 C1281.6,1017.3 1283.1,987.4 1285.3,987.1 C1286.4,986.9 1287.8,990.9 1288.8,994.1 C1290.7,1000.3 1291.3,1022.4 1292.4,1022.4 C1293.7,1022.4 1295.0,1000.9 1295.9,987.1 C1297.2,967.6 1297.0,937.3 1298.2,916.5 C1299.1,899.9 1299.1,878.9 1301.8,871.8 C1302.8,869.2 1304.3,867.0 1305.3,867.1 C1306.7,867.3 1307.8,872.0 1308.8,876.5 C1311.0,886.7 1311.2,911.4 1312.4,928.2 C1313.6,944.3 1314.6,958.7 1315.9,975.3 C1317.3,993.8 1318.7,1020.0 1320.6,1034.1 C1321.7,1042.1 1322.2,1052.6 1324.1,1052.9 C1325.6,1053.1 1327.4,1043.9 1330.0,1042.4 C1332.0,1041.2 1335.3,1043.9 1337.1,1042.4 C1340.6,1039.5 1339.3,1022.4 1341.8,1017.6 C1343.1,1015.1 1345.2,1012.6 1346.5,1012.9 C1348.1,1013.2 1349.1,1022.5 1350.0,1022.4 C1351.5,1022.2 1350.4,1002.3 1352.4,996.5 C1353.6,993.2 1355.9,992.7 1357.1,989.4 C1359.3,983.6 1359.5,973.9 1360.6,963.5 C1362.3,947.9 1363.7,923.7 1365.3,904.7 C1366.8,886.9 1367.5,864.6 1370.0,852.9 C1371.3,846.6 1372.1,841.4 1374.7,838.8 C1376.5,837.0 1380.0,838.3 1381.8,836.5 C1384.4,833.9 1385.0,827.5 1386.5,822.4 C1388.2,816.6 1388.8,808.5 1391.2,803.5 C1393.0,799.6 1395.7,796.3 1398.2,794.1 C1400.1,792.4 1402.0,790.5 1404.1,790.6 C1406.7,790.7 1410.1,793.4 1412.4,796.5 C1415.8,801.1 1415.9,815.5 1419.4,817.6 C1421.4,818.8 1424.5,815.8 1426.5,816.5 C1428.4,817.1 1429.8,818.8 1431.1,821.3 C1433.7,826.3 1435.0,837.3 1436.4,847.0 C1438.1,859.4 1438.4,876.5 1439.6,889.7 C1440.6,901.2 1441.6,911.1 1442.8,921.8 C1444.1,932.5 1445.3,946.7 1447.1,953.9 C1448.1,957.7 1449.4,962.6 1450.3,962.5 C1451.9,962.3 1452.5,943.9 1453.5,932.5 C1454.8,917.2 1455.5,894.5 1456.7,879.0 C1457.7,867.0 1458.1,855.9 1459.9,847.0 C1461.3,840.3 1462.9,834.4 1465.3,829.8 C1467.1,826.3 1470.1,825.5 1471.7,821.3 C1474.7,813.3 1473.2,794.0 1474.9,782.8 C1476.3,773.9 1477.8,764.8 1480.3,759.3 C1481.8,755.9 1483.8,751.8 1485.6,751.8 C1487.7,751.8 1490.3,757.4 1492.0,761.4 C1494.3,767.0 1493.7,778.6 1496.3,782.8 C1497.7,785.2 1500.3,784.6 1501.7,787.1 C1504.6,792.1 1504.7,804.7 1505.9,814.9 C1507.3,827.1 1508.1,855.5 1509.1,855.5 C1510.3,855.5 1511.4,818.2 1512.4,804.2 C1513.1,794.5 1513.4,779.7 1514.5,779.6 C1515.3,779.5 1515.8,792.6 1517.7,793.5 C1518.8,794.0 1520.9,790.8 1522.0,791.3 C1523.9,792.2 1523.7,801.2 1525.2,804.2 C1526.1,806.1 1527.4,808.5 1528.4,808.4 C1529.9,808.2 1530.8,798.5 1532.7,797.8 C1533.9,797.3 1535.9,798.3 1537.0,799.9 C1539.3,803.2 1537.1,817.1 1539.1,821.3 C1540.2,823.6 1542.3,823.1 1543.4,825.6 C1546.4,832.3 1542.5,861.6 1545.5,868.3 C1546.6,870.8 1548.7,870.2 1549.8,872.6 C1552.5,878.4 1551.6,895.2 1553.0,906.8 C1554.4,918.8 1556.9,932.1 1558.3,943.2 C1559.5,952.6 1559.2,968.9 1561.2,969.2 C1562.9,969.4 1565.9,951.8 1568.5,951.6 C1570.8,951.4 1573.8,964.1 1575.8,963.7 C1579.4,963.0 1580.3,917.6 1582.5,917.6 C1584.1,917.6 1585.9,943.1 1587.3,943.1 C1589.0,943.1 1590.2,909.1 1591.6,909.1 C1593.3,909.1 1594.9,964.9 1596.4,964.9 C1597.4,964.9 1598.3,938.2 1599.4,938.2 C1600.6,938.2 1601.7,969.8 1603.1,969.8 C1604.7,969.8 1607.1,930.9 1608.5,930.9 C1610.0,930.9 1610.8,963.4 1611.6,974.6 C1612.1,981.6 1612.2,991.6 1612.8,991.6 C1613.4,991.6 1614.6,977.0 1615.2,977.0 C1616.3,977.1 1615.3,1029.0 1616.2,1029.0 C1616.8,1029.0 1618.5,1007.6 1619.0,1000.0 C1619.3,995.1 1619.5,988.0 1619.5,988.0" fill="none" stroke="rgb(122,92,133)" stroke-width="10" stroke-linejoin="round" stroke-linecap="butt"/>
<path d="M86.6,357.3 C86.6,357.3 103.6,363.0 112.2,364.0 C120.8,365.0 131.7,365.0 138.3,363.5 C142.7,362.5 146.0,358.3 148.8,358.8 C151.0,359.2 151.8,363.6 154.0,364.0 C156.8,364.5 160.1,360.5 164.5,359.3 C171.1,357.5 185.9,358.9 190.6,356.2 C193.0,354.9 193.3,350.9 194.6,350.9 C195.9,350.9 197.2,356.2 198.5,356.2 C199.8,356.2 200.7,351.2 202.4,350.9 C204.2,350.5 207.0,354.9 209.0,354.8 C210.9,354.7 212.4,350.7 214.2,350.9 C216.7,351.2 219.4,359.3 222.0,360.1 C223.7,360.7 225.4,358.4 227.2,358.8 C229.7,359.4 232.8,363.1 235.1,365.3 C237.1,367.3 238.1,370.6 240.3,371.3 C242.5,372.0 246.4,368.7 248.2,369.2 C249.4,369.5 249.5,371.8 250.8,371.9 C253.4,372.1 260.1,361.9 263.9,361.9 C266.8,361.9 268.9,367.0 271.7,367.9 C274.2,368.7 276.8,368.1 279.6,367.9 C282.8,367.7 286.4,367.8 290.0,366.6 C294.2,365.2 298.2,360.5 303.1,359.3 C308.5,358.0 314.2,359.7 321.4,360.1 C332.0,360.7 351.2,363.3 360.7,362.7 C366.2,362.3 369.4,360.1 373.7,360.1 C378.1,360.1 381.7,362.6 386.8,362.7 C394.0,362.9 405.0,358.9 413.0,358.8 C419.6,358.7 424.3,360.9 431.3,360.9 C440.9,360.9 456.6,357.0 465.3,356.7 C470.7,356.5 473.9,356.6 478.4,357.5 C483.5,358.5 489.9,360.0 494.1,362.7 C497.9,365.2 500.6,368.6 503.1,372.5 C506.0,377.0 508.0,382.3 509.9,388.8 C512.5,397.7 513.8,409.9 515.3,421.4 C517.0,434.2 518.3,448.4 519.4,462.0 C520.5,475.5 521.2,489.1 522.1,502.7 C523.0,516.3 524.0,528.9 524.8,543.4 C525.8,560.2 526.5,580.9 527.5,597.7 C528.4,612.2 529.6,626.1 530.3,638.3 C530.9,648.3 529.2,664.3 531.6,665.5 C532.6,666.0 534.6,662.3 535.7,662.8 C538.1,663.8 538.5,677.2 539.8,684.5 C541.2,692.1 542.5,707.5 543.8,707.5 C545.2,707.5 546.7,693.3 547.9,684.5 C549.5,672.9 550.3,656.6 552.0,643.8 C553.5,632.3 555.6,621.8 557.4,611.2 C559.2,601.0 561.2,581.4 562.8,581.4 C564.3,581.4 565.3,597.0 566.9,605.8 C568.8,616.2 571.9,639.8 573.7,639.7 C575.4,639.7 576.7,623.2 577.7,611.2 C579.4,591.1 579.5,555.8 580.4,529.9 C581.3,506.2 581.8,482.4 583.1,462.0 C584.2,445.1 584.6,429.1 587.2,415.9 C589.2,405.6 591.9,396.9 595.4,388.8 C598.4,381.7 602.4,374.3 606.2,369.8 C608.8,366.7 611.2,363.9 614.3,363.0 C617.5,362.1 620.7,364.2 625.2,364.4 C632.5,364.7 646.9,361.8 654.0,362.9 C658.5,363.6 660.4,366.9 664.5,366.9 C670.3,366.9 678.3,360.8 685.4,359.0 C692.3,357.3 698.6,356.9 706.3,356.4 C715.7,355.7 729.5,355.4 737.7,355.9 C743.0,356.2 746.1,357.3 750.8,357.7 C756.4,358.2 763.7,356.8 769.1,358.5 C774.1,360.1 777.7,364.8 782.2,366.9 C786.4,368.8 792.2,368.1 795.3,370.8 C798.3,373.4 798.2,382.1 800.5,382.5 C802.6,382.9 805.7,374.9 808.3,374.7 C810.5,374.6 812.7,379.8 814.9,379.9 C817.0,380.0 819.7,375.6 821.4,376.0 C823.0,376.3 824.1,378.6 825.0,381.0 C826.7,385.5 826.2,393.4 826.7,402.4 C827.5,417.7 827.9,443.9 828.5,464.7 C829.1,485.5 829.6,508.9 830.3,527.0 C830.8,541.1 830.4,557.8 832.1,564.5 C832.8,567.2 833.8,569.8 834.7,569.8 C835.6,569.8 836.7,567.3 837.4,564.5 C839.4,556.8 838.7,535.3 839.2,518.2 C839.9,497.0 840.4,469.0 841.0,446.9 C841.6,427.8 841.4,407.3 842.8,393.5 C843.7,384.7 843.8,376.0 846.3,372.1 C847.7,369.9 850.0,368.3 851.7,368.5 C853.6,368.7 855.3,374.1 857.0,373.9 C858.9,373.7 860.8,364.8 862.4,365.0 C864.5,365.2 866.4,381.1 867.7,381.0 C869.2,380.8 869.6,365.5 870.4,357.8 C871.2,350.3 871.6,335.5 872.4,335.5 C873.2,335.5 872.9,355.9 875.0,356.4 C876.5,356.8 879.8,346.9 881.6,347.2 C883.9,347.6 884.5,360.3 886.8,364.2 C888.3,366.7 890.2,369.6 892.0,369.5 C894.1,369.4 896.4,361.6 898.6,361.6 C900.8,361.6 903.0,369.4 905.1,369.5 C906.9,369.6 908.5,364.1 910.3,364.2 C912.5,364.4 914.6,373.5 916.9,373.4 C919.7,373.3 922.5,360.2 926.0,359.0 C928.4,358.1 932.0,362.5 933.9,361.6 C936.0,360.6 936.4,352.6 937.8,352.5 C939.0,352.4 940.5,356.1 941.7,359.0 C943.7,363.7 945.5,378.7 947.0,378.6 C948.6,378.5 948.4,361.5 950.9,356.4 C952.5,353.0 955.0,349.2 957.2,349.2 C959.5,349.2 962.0,356.6 964.5,357.2 C966.4,357.7 968.7,354.6 970.4,355.0 C972.1,355.4 973.1,359.2 974.7,359.4 C976.4,359.6 978.1,356.0 980.6,355.8 C984.3,355.5 989.7,360.8 995.2,361.6 C1001.7,362.5 1011.9,358.1 1017.1,359.4 C1020.4,360.3 1021.9,363.3 1024.4,364.5 C1026.7,365.6 1029.3,365.6 1031.7,366.7 C1034.2,367.8 1037.1,368.9 1039.0,371.1 C1041.2,373.6 1042.3,377.6 1043.4,381.3 C1044.6,385.5 1044.9,389.1 1045.5,395.0 C1046.5,405.4 1046.5,422.9 1047.1,438.4 C1047.8,456.1 1048.6,476.9 1049.4,495.5 C1050.2,513.4 1050.5,535.6 1051.7,548.0 C1052.3,554.9 1053.3,563.9 1054.0,563.9 C1055.0,563.9 1055.5,542.6 1056.2,529.7 C1057.1,513.1 1057.7,490.6 1058.5,472.7 C1059.2,456.6 1059.4,438.8 1060.8,427.0 C1061.7,419.5 1061.9,411.8 1064.2,408.8 C1065.4,407.2 1067.4,406.2 1068.8,406.5 C1070.5,406.9 1071.7,412.0 1073.3,412.2 C1074.7,412.4 1076.1,408.8 1077.9,408.8 C1080.4,408.8 1084.6,412.6 1087.0,415.6 C1089.7,418.9 1090.2,426.2 1092.7,428.2 C1094.3,429.5 1096.7,430.1 1098.4,429.3 C1101.2,427.9 1102.6,419.8 1105.3,415.6 C1107.9,411.5 1111.2,408.2 1114.4,404.2 C1118.0,399.8 1121.8,391.8 1125.8,390.5 C1128.7,389.5 1131.9,391.3 1135.0,392.8 C1138.8,394.7 1143.3,398.6 1146.4,401.9 C1149.2,404.8 1151.4,406.9 1153.2,411.1 C1155.9,417.6 1156.6,427.2 1157.8,438.4 C1159.7,456.0 1160.0,482.4 1161.2,506.9 C1162.6,535.2 1164.2,571.3 1165.7,598.2 C1166.9,619.4 1168.0,641.0 1169.2,655.2 C1169.9,663.8 1170.5,675.7 1171.5,675.7 C1172.7,675.7 1174.8,657.2 1176.0,643.8 C1178.0,621.2 1178.3,577.7 1179.4,552.5 C1180.2,534.7 1180.4,519.1 1181.7,506.9 C1182.6,498.7 1183.7,486.5 1185.1,486.4 C1186.4,486.3 1188.0,504.6 1189.7,504.6 C1191.4,504.6 1193.9,485.1 1195.4,485.2 C1196.9,485.3 1196.7,501.4 1198.8,504.6 C1199.7,506.1 1201.3,505.3 1202.2,506.9 C1205.3,512.4 1203.2,537.0 1204.5,552.5 C1205.8,568.9 1208.5,602.7 1210.2,602.7 C1211.9,602.7 1213.1,567.6 1214.8,552.5 C1216.2,540.0 1217.5,529.5 1219.4,518.3 C1221.3,507.4 1222.2,488.7 1226.2,486.4 C1228.1,485.3 1230.8,488.2 1233.1,488.6 C1235.3,488.9 1238.0,487.4 1239.9,488.6 C1242.5,490.2 1244.0,496.1 1245.6,500.0 C1247.2,503.9 1248.5,507.5 1249.5,512.0 C1250.7,517.3 1250.9,523.3 1251.5,530.0 C1252.3,538.3 1250.7,553.1 1253.5,558.0 C1254.9,560.5 1257.7,561.0 1259.4,562.0 C1260.6,562.7 1261.6,562.5 1262.5,563.5 C1264.1,565.4 1263.5,572.5 1265.7,574.5 C1267.5,576.2 1271.4,574.8 1273.5,576.1 C1275.6,577.4 1276.8,580.4 1278.2,582.4 C1279.4,584.1 1280.2,586.8 1281.4,587.1 C1282.3,587.3 1283.6,585.1 1284.5,585.5 C1286.7,586.7 1286.6,600.9 1287.6,609.0 C1288.7,617.6 1289.6,628.1 1290.8,635.7 C1291.7,641.4 1292.7,650.5 1293.9,650.6 C1294.9,650.6 1296.1,645.1 1297.1,640.4 C1299.1,630.5 1300.1,607.9 1301.8,593.3 C1303.3,580.5 1304.5,565.8 1306.5,557.3 C1307.7,552.5 1309.2,546.3 1310.4,546.3 C1311.6,546.3 1312.7,552.7 1313.5,557.3 C1314.8,564.5 1314.8,577.5 1315.9,585.5 C1316.7,591.5 1317.1,597.7 1319.0,601.2 C1320.2,603.5 1322.2,606.0 1323.7,605.9 C1325.3,605.8 1326.8,600.4 1328.4,600.4 C1330.0,600.4 1331.6,606.0 1333.1,605.9 C1334.7,605.8 1336.3,598.8 1337.8,598.8 C1339.2,598.8 1340.8,601.7 1341.8,604.3 C1343.6,608.8 1342.8,618.4 1344.1,624.7 C1345.3,630.3 1347.2,635.8 1348.8,640.4 C1350.1,644.2 1351.4,650.6 1352.7,650.6 C1354.0,650.6 1355.6,645.3 1356.7,640.4 C1359.1,629.5 1358.7,602.3 1359.8,585.5 C1360.8,571.3 1361.9,559.4 1362.9,546.3 C1364.0,533.2 1364.8,517.8 1366.1,507.1 C1367.0,499.6 1367.3,492.6 1369.2,488.2 C1370.4,485.4 1372.4,482.0 1373.9,482.0 C1375.5,482.0 1376.8,488.5 1378.6,489.0 C1380.0,489.4 1382.0,486.1 1383.3,486.7 C1385.9,487.9 1386.7,499.7 1388.0,507.1 C1389.5,515.7 1389.9,527.5 1391.2,535.3 C1392.1,540.8 1392.2,547.7 1394.3,549.4 C1395.5,550.4 1397.8,548.6 1399.0,549.4 C1400.7,550.5 1401.0,557.3 1402.2,557.3 C1403.6,557.4 1405.3,548.0 1406.9,547.8 C1407.9,547.6 1409.1,549.3 1410.0,551.0 C1411.9,554.3 1412.2,566.8 1414.7,568.2 C1416.0,568.9 1417.9,566.5 1419.4,566.7 C1421.0,566.9 1422.6,570.2 1424.1,569.8 C1426.4,569.2 1428.2,558.2 1430.4,558.0 C1432.4,557.9 1435.0,562.8 1436.7,566.7 C1439.3,572.9 1440.2,583.1 1441.4,593.3 C1443.0,606.7 1443.0,628.7 1444.5,640.4 C1445.4,647.4 1446.4,657.0 1447.6,657.0 C1448.8,657.0 1450.5,647.2 1451.8,640.3 C1453.8,629.2 1454.8,610.6 1456.7,596.7 C1458.5,584.0 1460.2,570.1 1462.7,560.3 C1464.5,553.5 1466.8,548.5 1468.8,543.3 C1470.5,538.9 1471.8,531.3 1473.6,531.2 C1475.4,531.1 1478.2,538.1 1479.7,543.3 C1482.1,551.2 1481.8,574.7 1483.3,574.8 C1484.7,574.8 1486.9,558.3 1488.2,548.2 C1489.9,535.0 1487.4,506.2 1491.8,502.1 C1493.4,500.6 1496.3,503.5 1497.9,502.1 C1501.3,499.2 1501.1,484.6 1502.7,475.5 C1504.4,466.0 1505.8,456.3 1507.6,446.4 C1509.4,436.1 1511.3,424.0 1513.6,414.8 C1515.4,407.5 1518.2,401.2 1519.7,395.5 C1520.8,391.0 1520.8,387.4 1522.1,383.3 C1523.5,378.9 1525.9,371.5 1528.2,370.0 C1529.3,369.3 1530.8,370.8 1531.8,370.0 C1534.3,368.1 1534.7,350.9 1536.7,350.6 C1538.1,350.4 1540.3,355.0 1541.5,359.1 C1544.1,367.8 1540.3,397.2 1543.9,402.7 C1545.2,404.7 1547.4,403.6 1548.8,405.2 C1551.1,407.9 1552.3,413.5 1553.6,419.7 C1555.8,430.2 1554.6,456.2 1557.3,463.3 C1558.3,466.0 1559.9,468.5 1560.9,468.2 C1563.0,467.7 1561.6,445.5 1564.5,441.5 C1565.8,439.7 1568.1,440.4 1569.4,439.1 C1571.0,437.5 1572.0,431.7 1573.0,431.8 C1574.6,432.0 1575.2,445.0 1576.7,451.2 C1578.1,457.1 1579.6,468.1 1581.5,468.2 C1583.3,468.3 1586.2,460.0 1587.8,453.0 C1590.9,439.3 1586.6,391.9 1591.0,389.9 C1592.4,389.3 1595.0,391.8 1596.4,394.2 C1598.8,398.3 1598.3,409.5 1599.7,415.0 C1600.6,418.7 1601.9,424.2 1602.8,424.1 C1605.0,423.8 1602.0,365.3 1606.0,360.0 C1606.9,358.8 1608.3,358.3 1609.2,358.9 C1612.5,361.1 1611.3,404.9 1612.4,404.9 C1613.5,404.9 1612.7,360.9 1615.6,356.7 C1616.2,355.8 1617.2,355.3 1617.8,355.7 C1619.6,356.8 1619.4,378.1 1619.4,378.1" fill="none" stroke="rgb(252,83,120)" stroke-width="10" stroke-linejoin="round" stroke-linecap="butt"/>
<path d="M86.6,137.3 C86.6,137.3 128.2,137.5 150.0,137.5 C173.2,137.5 194.7,137.4 222.0,137.5 C258.1,137.6 305.3,137.8 347.6,138.2 C390.7,138.6 457.8,139.6 478.0,140.0 C484.1,140.1 485.9,139.9 490.0,140.3 C494.4,140.7 499.5,141.1 503.5,142.4 C507.0,143.5 510.3,144.7 513.0,147.0 C515.8,149.4 518.0,152.9 519.8,156.6 C521.8,160.9 522.8,166.2 523.9,171.5 C525.1,177.4 525.7,183.8 526.6,190.5 C527.6,198.1 528.6,207.1 529.3,214.9 C529.9,222.0 530.2,229.1 530.7,235.2 C531.1,240.2 530.2,247.4 532.0,248.7 C533.1,249.5 535.5,246.8 536.8,247.4 C538.5,248.2 539.2,251.9 540.1,255.5 C541.7,261.8 542.0,274.5 542.9,282.6 C543.6,289.1 544.1,300.2 544.9,300.2 C545.5,300.2 546.3,293.8 546.9,289.4 C547.9,282.4 548.3,270.7 549.6,262.3 C550.7,255.0 552.0,248.3 553.7,242.0 C555.2,236.2 557.4,230.6 559.1,225.7 C560.5,221.7 561.8,214.9 563.2,214.9 C564.5,214.9 566.0,221.7 567.2,225.7 C568.7,230.5 570.1,237.0 571.3,242.0 C572.3,246.4 573.0,254.2 574.0,254.2 C575.0,254.2 576.5,246.9 577.4,242.0 C578.7,234.8 578.8,223.9 579.4,214.9 C580.0,205.9 579.9,195.7 580.8,187.8 C581.5,181.7 582.5,176.2 583.5,171.5 C584.3,167.9 584.8,164.9 586.2,162.0 C587.5,159.1 589.4,156.0 591.6,153.9 C593.6,152.0 596.0,151.4 598.4,149.8 C601.3,147.9 604.6,144.8 607.9,143.0 C611.0,141.3 613.9,139.7 617.4,139.0 C621.2,138.2 624.3,139.2 630.0,139.0 C642.3,138.6 667.9,136.2 688.0,135.4 C709.8,134.6 732.1,134.3 756.0,134.4 C782.8,134.5 810.3,136.0 841.0,136.1 C877.5,136.3 924.1,134.5 960.6,134.8 C991.4,135.0 1028.2,135.1 1045.7,137.1 C1053.6,138.0 1056.4,139.6 1062.8,140.5 C1070.8,141.6 1082.5,143.2 1090.0,142.9 C1095.3,142.7 1098.3,141.0 1103.6,140.5 C1111.1,139.8 1124.3,140.0 1130.9,140.5 C1134.8,140.8 1136.8,141.3 1140.0,142.0 C1143.5,142.8 1148.0,142.9 1151.0,145.0 C1154.1,147.2 1156.4,150.7 1158.2,155.3 C1161.0,162.5 1160.8,175.1 1162.1,185.4 C1163.4,196.2 1164.1,218.4 1166.1,218.6 C1167.4,218.8 1169.5,210.9 1170.8,205.9 C1172.6,199.3 1173.0,189.8 1174.8,182.2 C1176.5,174.8 1178.1,163.1 1181.1,160.8 C1182.5,159.8 1184.5,159.9 1185.9,160.8 C1188.0,162.2 1189.0,171.1 1190.6,171.1 C1192.2,171.1 1193.3,160.9 1195.4,160.0 C1196.8,159.4 1198.9,160.3 1200.1,161.6 C1202.1,163.7 1202.0,169.5 1203.3,174.3 C1205.0,180.7 1208.0,196.5 1209.6,196.4 C1211.1,196.3 1211.4,183.2 1212.8,177.4 C1214.1,172.3 1215.3,167.4 1217.5,163.2 C1219.6,159.3 1222.3,153.7 1225.4,152.9 C1228.2,152.2 1231.8,156.1 1234.9,156.9 C1237.6,157.6 1240.4,158.4 1242.8,157.7 C1245.2,157.0 1246.9,153.5 1249.1,152.9 C1251.1,152.4 1253.8,152.5 1255.5,153.7 C1257.7,155.3 1258.4,160.7 1260.2,163.2 C1261.6,165.2 1263.6,166.1 1264.9,168.0 C1266.3,170.2 1266.6,175.6 1268.1,175.9 C1269.7,176.2 1272.4,169.5 1274.4,169.5 C1276.1,169.5 1277.7,172.4 1279.2,174.3 C1280.9,176.5 1282.6,178.9 1283.9,182.2 C1285.8,187.0 1286.8,193.4 1287.9,201.2 C1289.7,213.4 1288.4,247.3 1291.8,248.6 C1293.1,249.1 1295.3,246.6 1296.6,243.9 C1299.9,237.0 1299.1,213.5 1301.3,201.2 C1303.0,191.6 1304.6,180.1 1307.6,175.9 C1309.0,173.9 1311.0,172.3 1312.4,172.7 C1314.6,173.4 1315.9,185.2 1317.9,185.4 C1319.6,185.6 1321.6,180.2 1323.5,177.4 C1325.6,174.4 1327.1,169.4 1329.8,168.0 C1332.0,166.8 1335.8,166.7 1337.7,168.0 C1339.9,169.5 1340.6,173.0 1341.6,177.4 C1343.6,186.2 1340.4,214.0 1344.0,218.6 C1345.3,220.2 1347.2,220.0 1348.8,220.1 C1350.4,220.2 1352.3,220.5 1353.5,219.4 C1355.7,217.3 1355.7,209.9 1356.7,204.3 C1357.9,197.3 1358.1,186.9 1359.8,180.6 C1361.0,176.1 1363.0,173.2 1364.6,169.5 C1366.2,165.8 1366.8,159.8 1369.3,158.5 C1371.3,157.4 1374.7,160.4 1377.2,160.0 C1379.8,159.6 1382.3,155.2 1384.6,155.7 C1387.5,156.4 1389.6,163.8 1392.2,167.1 C1394.4,170.0 1397.2,171.9 1399.0,174.7 C1400.8,177.5 1401.1,183.4 1402.8,183.9 C1404.1,184.3 1405.6,180.7 1407.4,180.8 C1410.0,180.9 1413.3,186.8 1416.5,188.4 C1419.4,189.9 1423.0,191.3 1425.6,190.7 C1428.0,190.1 1429.5,185.4 1431.7,185.4 C1434.1,185.4 1437.3,188.7 1439.3,191.5 C1441.7,194.9 1442.6,200.5 1443.9,205.2 C1445.2,210.1 1444.7,218.6 1446.9,220.4 C1448.1,221.4 1450.2,221.4 1451.5,220.4 C1454.3,218.2 1454.2,205.2 1456.0,199.1 C1457.4,194.4 1458.3,189.4 1460.6,186.9 C1462.2,185.1 1464.5,184.7 1466.7,183.9 C1469.0,183.1 1472.2,181.3 1474.3,182.3 C1477.0,183.5 1478.9,188.9 1480.4,193.0 C1482.1,197.8 1482.1,209.6 1483.4,209.7 C1484.6,209.8 1487.0,200.9 1488.0,196.0 C1489.1,190.8 1487.8,183.0 1489.5,179.3 C1490.5,177.0 1492.2,175.5 1494.0,174.7 C1495.8,174.0 1498.4,175.7 1500.1,174.7 C1502.3,173.4 1503.0,168.7 1504.7,165.6 C1506.5,162.2 1508.4,158.4 1510.8,155.0 C1513.4,151.3 1516.7,147.2 1519.9,144.3 C1522.8,141.7 1525.8,139.6 1529.0,138.2 C1531.9,136.9 1535.7,135.0 1538.2,136.0 C1540.9,137.1 1542.1,145.4 1544.2,145.9 C1545.7,146.2 1547.3,142.5 1548.8,142.8 C1550.9,143.2 1552.9,149.0 1554.9,151.9 C1556.7,154.6 1558.5,159.6 1560.2,159.5 C1562.1,159.4 1563.0,149.8 1565.5,148.9 C1567.5,148.1 1571.2,149.7 1573.1,151.9 C1576.0,155.2 1575.8,164.4 1577.7,170.2 C1579.4,175.6 1582.0,185.5 1583.8,185.4 C1585.5,185.3 1586.6,174.6 1588.3,170.2 C1589.7,166.7 1591.3,161.2 1592.9,161.1 C1594.4,161.0 1595.9,166.0 1597.5,168.7 C1599.2,171.6 1601.2,177.9 1602.8,177.8 C1604.7,177.6 1606.4,164.1 1608.1,164.1 C1609.7,164.1 1611.5,176.4 1612.7,176.3 C1614.3,176.1 1613.3,153.9 1615.5,153.0 C1616.5,152.6 1618.5,154.3 1619.3,156.0 C1620.9,159.3 1619.5,174.0 1619.5,174.0" fill="none" stroke="rgb(60,114,225)" stroke-width="10" stroke-linejoin="round" stroke-linecap="butt"/>
<text x="93" y="108.6" font-size="75.5" font-weight="bold" fill="rgb(60,114,225)"><tspan dy="3.5">[</tspan><tspan dy="-3.5">P</tspan><tspan font-size="52" dy="22.6">(14)666</tspan><tspan dx="-2" dy="-19.1">]</tspan><tspan dx="1" dy="-3.5" font-size="76.2">TMPP</tspan></text>
<text x="422" y="1032.6" font-size="57" fill="rgb(68,38,80)">2935</text>
</g>
<g clip-path="url(#cl)">
<rect x="1257.4" y="26" width="112.3" height="1123.6" fill="rgb(180,218,238)"/>
<rect x="1257.4" y="26" width="112.3" height="4.05" fill="rgb(0,45,70)"/>
<path d="M86.6,786.0 C86.6,786.0 100.3,791.0 106.9,791.4 C113.1,791.8 119.1,789.2 125.2,788.8 C131.3,788.4 139.6,791.4 143.5,788.8 C146.9,786.5 147.3,775.6 148.8,775.7 C150.4,775.8 149.9,790.3 152.7,791.4 C155.3,792.4 160.4,783.6 164.5,783.5 C168.7,783.4 173.4,791.0 177.6,791.4 C181.2,791.7 185.4,789.9 188.0,787.5 C190.8,784.9 191.5,775.6 193.2,775.7 C195.0,775.8 197.0,790.2 198.5,790.1 C200.1,790.0 200.8,774.5 202.4,774.4 C203.9,774.3 205.3,785.6 207.6,786.2 C209.4,786.7 212.0,780.7 214.2,780.9 C216.8,781.1 219.9,787.1 222.3,789.5 C224.1,791.4 225.9,792.1 227.2,794.3 C229.0,797.3 229.6,802.0 230.8,806.5 C232.2,811.9 233.8,819.9 235.1,824.7 C236.0,827.9 236.2,831.7 237.5,832.7 C238.3,833.3 239.5,832.9 240.5,832.7 C241.7,832.4 242.9,830.6 244.2,830.8 C245.9,831.1 248.0,836.4 249.7,836.3 C251.3,836.2 252.4,832.7 253.9,830.8 C255.5,828.8 256.9,826.3 258.8,824.7 C260.6,823.1 263.0,821.2 264.9,821.1 C266.6,821.0 268.6,822.2 269.7,823.5 C270.9,824.9 270.5,829.3 271.6,829.6 C272.6,829.9 274.4,826.1 275.8,826.0 C277.2,825.9 278.6,829.0 280.1,829.0 C281.7,829.0 283.4,826.7 285.0,826.0 C286.4,825.4 287.8,825.5 289.2,824.7 C290.9,823.7 292.4,821.7 294.1,819.9 C296.1,817.8 298.1,814.8 300.2,812.6 C302.1,810.6 304.2,808.7 306.2,807.1 C308.0,805.7 309.5,804.5 311.7,803.5 C314.4,802.2 318.0,801.9 321.4,800.5 C325.5,798.9 330.1,796.0 334.5,794.0 C338.8,792.1 342.4,790.1 347.6,788.8 C354.7,787.1 366.1,787.5 373.7,786.2 C379.6,785.2 384.2,782.2 389.4,782.2 C394.6,782.2 399.5,786.0 405.1,786.2 C411.5,786.4 418.6,783.3 426.0,782.2 C434.2,781.0 444.6,779.7 452.2,779.6 C458.1,779.6 462.5,779.7 467.9,780.9 C473.9,782.2 481.3,784.9 486.2,787.5 C489.8,789.4 492.3,791.4 495.0,793.9 C497.9,796.6 500.7,799.8 503.1,803.4 C505.7,807.4 507.6,812.0 509.9,816.9 C512.6,822.7 515.5,829.5 518.0,835.9 C520.5,842.2 522.9,847.9 524.8,854.8 C527.1,862.9 528.4,872.9 530.2,881.9 C532.0,890.9 533.9,900.6 535.6,909.0 C537.1,916.3 537.5,928.9 539.7,929.4 C541.1,929.7 543.7,925.9 545.1,922.6 C547.6,916.8 548.1,904.5 549.2,895.5 C550.3,886.5 550.8,877.4 551.9,868.4 C553.0,859.4 553.6,847.5 556.0,841.3 C557.4,837.6 559.6,833.3 561.4,833.2 C563.0,833.1 564.6,838.7 566.1,838.6 C567.8,838.4 569.4,833.8 570.9,830.5 C572.9,826.1 574.5,819.5 576.3,814.2 C578.1,809.1 579.1,803.1 581.7,799.3 C583.8,796.2 586.9,794.1 589.8,792.5 C592.4,791.1 595.0,791.0 598.0,789.8 C601.7,788.3 605.9,784.8 610.2,783.7 C614.5,782.6 619.0,782.7 623.7,783.0 C628.9,783.4 634.9,785.4 640.0,786.1 C644.4,786.8 648.8,785.8 652.5,787.4 C656.3,789.1 658.8,794.6 662.4,796.1 C665.5,797.4 668.7,797.3 672.4,796.8 C677.5,796.1 684.9,790.2 689.9,790.3 C693.7,790.3 696.2,794.2 699.9,794.3 C704.4,794.4 709.4,790.4 714.8,789.4 C720.9,788.3 729.4,787.7 734.8,788.6 C738.7,789.2 740.9,792.5 744.7,792.3 C750.3,792.0 759.5,783.6 764.7,782.4 C767.7,781.7 769.9,781.3 772.2,782.4 C775.1,783.8 777.3,788.8 779.7,792.3 C782.2,795.9 784.7,803.4 787.1,803.6 C788.8,803.8 790.4,798.6 792.1,798.6 C793.8,798.6 795.8,801.0 797.1,803.6 C799.5,808.2 798.3,825.4 800.8,826.0 C802.9,826.5 806.4,814.3 809.6,813.5 C812.0,812.9 815.0,817.7 817.1,817.3 C818.9,817.0 820.1,812.6 821.4,812.8 C823.0,813.0 824.7,817.3 825.7,821.4 C827.9,830.1 826.3,846.7 826.7,864.2 C827.3,891.8 828.1,937.4 828.9,971.1 C829.6,1001.2 829.5,1039.0 831.0,1056.7 C831.7,1064.7 832.4,1074.0 833.5,1074.0 C834.6,1074.0 836.4,1064.7 837.4,1056.7 C839.6,1039.1 838.9,1001.2 839.6,971.1 C840.4,937.4 840.8,892.6 841.7,864.2 C842.3,845.3 841.6,828.3 843.9,817.1 C845.2,810.6 847.4,802.5 849.5,802.3 C851.1,802.1 852.6,807.5 854.5,809.8 C856.4,812.1 859.1,816.5 860.7,816.0 C863.2,815.2 863.3,794.7 864.4,794.8 C866.0,794.9 867.1,842.2 868.2,842.2 C869.8,842.2 869.9,742.6 871.9,742.5 C873.2,742.4 875.1,784.9 876.9,784.9 C878.4,784.9 880.0,754.9 881.9,754.9 C884.1,754.9 885.0,793.6 889.4,794.8 C892.0,795.5 896.5,783.3 899.4,783.6 C902.3,783.9 904.0,796.9 906.8,797.3 C909.1,797.6 912.6,789.3 914.3,789.9 C916.5,790.6 915.1,807.1 916.8,807.3 C918.9,807.5 924.2,782.2 926.8,782.4 C929.0,782.6 930.1,802.3 931.8,802.3 C933.8,802.3 936.1,772.4 938.0,772.4 C939.3,772.4 940.5,781.2 941.7,787.4 C943.6,797.5 945.3,827.3 946.7,827.3 C948.3,827.3 947.3,790.7 950.5,779.9 C952.3,773.7 955.7,766.0 957.9,766.2 C960.4,766.4 962.2,786.1 964.2,786.1 C965.9,786.1 966.9,772.8 969.2,772.4 C971.2,772.0 973.5,779.4 976.7,781.1 C980.1,782.9 985.0,783.0 989.1,782.4 C993.3,781.8 997.4,777.8 1001.6,777.4 C1005.7,777.0 1010.0,778.7 1014.1,779.9 C1018.3,781.2 1023.0,783.6 1026.5,784.9 C1029.0,785.8 1031.1,786.0 1033.0,787.0 C1034.8,787.9 1036.4,788.3 1037.7,790.5 C1040.7,795.5 1041.5,808.7 1042.8,821.3 C1044.8,841.1 1044.4,870.8 1045.4,898.3 C1046.5,930.1 1047.9,969.5 1049.3,1001.0 C1050.5,1027.8 1051.4,1075.4 1053.1,1075.4 C1054.5,1075.4 1056.8,1046.0 1058.2,1026.7 C1060.2,998.8 1060.9,955.2 1062.1,924.0 C1063.1,897.9 1063.0,868.4 1064.7,852.1 C1065.6,843.6 1066.6,833.0 1068.0,832.9 C1069.2,832.8 1071.2,840.3 1072.4,847.0 C1075.1,862.3 1075.0,896.5 1076.2,924.0 C1077.6,955.8 1079.1,1003.5 1080.1,1026.7 C1080.6,1038.6 1080.7,1053.6 1081.3,1053.6 C1082.2,1053.6 1084.0,1020.2 1085.2,1001.0 C1086.6,977.8 1087.8,945.7 1089.0,924.0 C1089.9,908.2 1088.0,888.2 1091.6,882.9 C1092.9,880.9 1095.1,880.3 1096.7,880.4 C1098.1,880.5 1099.5,883.4 1100.6,882.9 C1103.4,881.6 1102.9,862.4 1104.4,852.1 C1105.9,841.8 1107.2,830.7 1109.6,821.3 C1111.7,813.0 1113.9,804.1 1117.3,798.2 C1119.8,793.8 1124.1,787.6 1126.3,788.0 C1128.2,788.4 1128.0,797.3 1130.1,798.2 C1131.7,798.9 1134.5,795.0 1136.5,795.7 C1139.8,796.8 1142.9,806.9 1145.5,811.1 C1147.4,814.1 1148.3,817.3 1150.6,818.8 C1152.7,820.2 1156.3,818.4 1158.3,820.1 C1161.1,822.4 1162.2,827.3 1163.5,834.2 C1166.7,851.0 1165.2,891.4 1166.0,924.0 C1166.9,963.0 1167.5,1017.3 1168.6,1052.3 C1169.4,1076.6 1169.6,1113.8 1171.2,1113.9 C1172.5,1114.0 1175.0,1093.1 1176.3,1078.0 C1178.4,1052.6 1177.7,1007.1 1178.9,975.3 C1179.9,947.8 1181.4,918.7 1182.7,898.3 C1183.6,884.9 1182.1,866.8 1185.3,865.0 C1186.6,864.3 1189.0,868.0 1190.4,867.5 C1192.1,866.9 1193.2,859.6 1194.3,859.8 C1196.6,860.2 1197.2,884.5 1198.1,898.3 C1199.1,914.2 1195.5,947.4 1199.4,949.7 C1200.7,950.5 1202.9,946.5 1204.5,947.1 C1207.4,948.2 1210.0,965.2 1212.2,965.1 C1214.2,965.0 1215.7,956.1 1217.4,949.7 C1220.1,939.6 1220.0,916.6 1225.1,909.9 C1227.8,906.4 1232.6,904.2 1235.3,904.8 C1237.6,905.3 1239.1,908.1 1240.5,911.2 C1243.2,917.1 1244.1,928.1 1245.6,939.4 C1247.8,955.9 1249.1,984.0 1250.7,1001.0 C1251.8,1013.0 1252.4,1031.6 1254.0,1031.8 C1254.9,1031.9 1256.1,1026.4 1257.1,1022.4 C1258.7,1016.0 1259.7,996.8 1261.8,996.5 C1263.1,996.3 1264.7,1003.4 1266.5,1005.9 C1267.9,1007.9 1269.5,1009.9 1271.2,1010.6 C1272.7,1011.2 1274.6,1009.8 1275.9,1010.6 C1277.5,1011.6 1278.3,1017.8 1279.4,1017.6 C1281.6,1017.3 1283.1,987.4 1285.3,987.1 C1286.4,986.9 1287.8,990.9 1288.8,994.1 C1290.7,1000.3 1291.3,1022.4 1292.4,1022.4 C1293.7,1022.4 1295.0,1000.9 1295.9,987.1 C1297.2,967.6 1297.0,937.3 1298.2,916.5 C1299.1,899.9 1299.1,878.9 1301.8,871.8 C1302.8,869.2 1304.3,867.0 1305.3,867.1 C1306.7,867.3 1307.8,872.0 1308.8,876.5 C1311.0,886.7 1311.2,911.4 1312.4,928.2 C1313.6,944.3 1314.6,958.7 1315.9,975.3 C1317.3,993.8 1318.7,1020.0 1320.6,1034.1 C1321.7,1042.1 1322.2,1052.6 1324.1,1052.9 C1325.6,1053.1 1327.4,1043.9 1330.0,1042.4 C1332.0,1041.2 1335.3,1043.9 1337.1,1042.4 C1340.6,1039.5 1339.3,1022.4 1341.8,1017.6 C1343.1,1015.1 1345.2,1012.6 1346.5,1012.9 C1348.1,1013.2 1349.1,1022.5 1350.0,1022.4 C1351.5,1022.2 1350.4,1002.3 1352.4,996.5 C1353.6,993.2 1355.9,992.7 1357.1,989.4 C1359.3,983.6 1359.5,973.9 1360.6,963.5 C1362.3,947.9 1363.7,923.7 1365.3,904.7 C1366.8,886.9 1367.5,864.6 1370.0,852.9 C1371.3,846.6 1372.1,841.4 1374.7,838.8 C1376.5,837.0 1380.0,838.3 1381.8,836.5 C1384.4,833.9 1385.0,827.5 1386.5,822.4 C1388.2,816.6 1388.8,808.5 1391.2,803.5 C1393.0,799.6 1395.7,796.3 1398.2,794.1 C1400.1,792.4 1402.0,790.5 1404.1,790.6 C1406.7,790.7 1410.1,793.4 1412.4,796.5 C1415.8,801.1 1415.9,815.5 1419.4,817.6 C1421.4,818.8 1424.5,815.8 1426.5,816.5 C1428.4,817.1 1429.8,818.8 1431.1,821.3 C1433.7,826.3 1435.0,837.3 1436.4,847.0 C1438.1,859.4 1438.4,876.5 1439.6,889.7 C1440.6,901.2 1441.6,911.1 1442.8,921.8 C1444.1,932.5 1445.3,946.7 1447.1,953.9 C1448.1,957.7 1449.4,962.6 1450.3,962.5 C1451.9,962.3 1452.5,943.9 1453.5,932.5 C1454.8,917.2 1455.5,894.5 1456.7,879.0 C1457.7,867.0 1458.1,855.9 1459.9,847.0 C1461.3,840.3 1462.9,834.4 1465.3,829.8 C1467.1,826.3 1470.1,825.5 1471.7,821.3 C1474.7,813.3 1473.2,794.0 1474.9,782.8 C1476.3,773.9 1477.8,764.8 1480.3,759.3 C1481.8,755.9 1483.8,751.8 1485.6,751.8 C1487.7,751.8 1490.3,757.4 1492.0,761.4 C1494.3,767.0 1493.7,778.6 1496.3,782.8 C1497.7,785.2 1500.3,784.6 1501.7,787.1 C1504.6,792.1 1504.7,804.7 1505.9,814.9 C1507.3,827.1 1508.1,855.5 1509.1,855.5 C1510.3,855.5 1511.4,818.2 1512.4,804.2 C1513.1,794.5 1513.4,779.7 1514.5,779.6 C1515.3,779.5 1515.8,792.6 1517.7,793.5 C1518.8,794.0 1520.9,790.8 1522.0,791.3 C1523.9,792.2 1523.7,801.2 1525.2,804.2 C1526.1,806.1 1527.4,808.5 1528.4,808.4 C1529.9,808.2 1530.8,798.5 1532.7,797.8 C1533.9,797.3 1535.9,798.3 1537.0,799.9 C1539.3,803.2 1537.1,817.1 1539.1,821.3 C1540.2,823.6 1542.3,823.1 1543.4,825.6 C1546.4,832.3 1542.5,861.6 1545.5,868.3 C1546.6,870.8 1548.7,870.2 1549.8,872.6 C1552.5,878.4 1551.6,895.2 1553.0,906.8 C1554.4,918.8 1556.9,932.1 1558.3,943.2 C1559.5,952.6 1559.2,968.9 1561.2,969.2 C1562.9,969.4 1565.9,951.8 1568.5,951.6 C1570.8,951.4 1573.8,964.1 1575.8,963.7 C1579.4,963.0 1580.3,917.6 1582.5,917.6 C1584.1,917.6 1585.9,943.1 1587.3,943.1 C1589.0,943.1 1590.2,909.1 1591.6,909.1 C1593.3,909.1 1594.9,964.9 1596.4,964.9 C1597.4,964.9 1598.3,938.2 1599.4,938.2 C1600.6,938.2 1601.7,969.8 1603.1,969.8 C1604.7,969.8 1607.1,930.9 1608.5,930.9 C1610.0,930.9 1610.8,963.4 1611.6,974.6 C1612.1,981.6 1612.2,991.6 1612.8,991.6 C1613.4,991.6 1614.6,977.0 1615.2,977.0 C1616.3,977.1 1615.3,1029.0 1616.2,1029.0 C1616.8,1029.0 1618.5,1007.6 1619.0,1000.0 C1619.3,995.1 1619.5,988.0 1619.5,988.0" fill="none" stroke="rgb(55,104,124)" stroke-width="10" stroke-linejoin="round" stroke-linecap="butt"/>
<path d="M86.6,357.3 C86.6,357.3 103.6,363.0 112.2,364.0 C120.8,365.0 131.7,365.0 138.3,363.5 C142.7,362.5 146.0,358.3 148.8,358.8 C151.0,359.2 151.8,363.6 154.0,364.0 C156.8,364.5 160.1,360.5 164.5,359.3 C171.1,357.5 185.9,358.9 190.6,356.2 C193.0,354.9 193.3,350.9 194.6,350.9 C195.9,350.9 197.2,356.2 198.5,356.2 C199.8,356.2 200.7,351.2 202.4,350.9 C204.2,350.5 207.0,354.9 209.0,354.8 C210.9,354.7 212.4,350.7 214.2,350.9 C216.7,351.2 219.4,359.3 222.0,360.1 C223.7,360.7 225.4,358.4 227.2,358.8 C229.7,359.4 232.8,363.1 235.1,365.3 C237.1,367.3 238.1,370.6 240.3,371.3 C242.5,372.0 246.4,368.7 248.2,369.2 C249.4,369.5 249.5,371.8 250.8,371.9 C253.4,372.1 260.1,361.9 263.9,361.9 C266.8,361.9 268.9,367.0 271.7,367.9 C274.2,368.7 276.8,368.1 279.6,367.9 C282.8,367.7 286.4,367.8 290.0,366.6 C294.2,365.2 298.2,360.5 303.1,359.3 C308.5,358.0 314.2,359.7 321.4,360.1 C332.0,360.7 351.2,363.3 360.7,362.7 C366.2,362.3 369.4,360.1 373.7,360.1 C378.1,360.1 381.7,362.6 386.8,362.7 C394.0,362.9 405.0,358.9 413.0,358.8 C419.6,358.7 424.3,360.9 431.3,360.9 C440.9,360.9 456.6,357.0 465.3,356.7 C470.7,356.5 473.9,356.6 478.4,357.5 C483.5,358.5 489.9,360.0 494.1,362.7 C497.9,365.2 500.6,368.6 503.1,372.5 C506.0,377.0 508.0,382.3 509.9,388.8 C512.5,397.7 513.8,409.9 515.3,421.4 C517.0,434.2 518.3,448.4 519.4,462.0 C520.5,475.5 521.2,489.1 522.1,502.7 C523.0,516.3 524.0,528.9 524.8,543.4 C525.8,560.2 526.5,580.9 527.5,597.7 C528.4,612.2 529.6,626.1 530.3,638.3 C530.9,648.3 529.2,664.3 531.6,665.5 C532.6,666.0 534.6,662.3 535.7,662.8 C538.1,663.8 538.5,677.2 539.8,684.5 C541.2,692.1 542.5,707.5 543.8,707.5 C545.2,707.5 546.7,693.3 547.9,684.5 C549.5,672.9 550.3,656.6 552.0,643.8 C553.5,632.3 555.6,621.8 557.4,611.2 C559.2,601.0 561.2,581.4 562.8,581.4 C564.3,581.4 565.3,597.0 566.9,605.8 C568.8,616.2 571.9,639.8 573.7,639.7 C575.4,639.7 576.7,623.2 577.7,611.2 C579.4,591.1 579.5,555.8 580.4,529.9 C581.3,506.2 581.8,482.4 583.1,462.0 C584.2,445.1 584.6,429.1 587.2,415.9 C589.2,405.6 591.9,396.9 595.4,388.8 C598.4,381.7 602.4,374.3 606.2,369.8 C608.8,366.7 611.2,363.9 614.3,363.0 C617.5,362.1 620.7,364.2 625.2,364.4 C632.5,364.7 646.9,361.8 654.0,362.9 C658.5,363.6 660.4,366.9 664.5,366.9 C670.3,366.9 678.3,360.8 685.4,359.0 C692.3,357.3 698.6,356.9 706.3,356.4 C715.7,355.7 729.5,355.4 737.7,355.9 C743.0,356.2 746.1,357.3 750.8,357.7 C756.4,358.2 763.7,356.8 769.1,358.5 C774.1,360.1 777.7,364.8 782.2,366.9 C786.4,368.8 792.2,368.1 795.3,370.8 C798.3,373.4 798.2,382.1 800.5,382.5 C802.6,382.9 805.7,374.9 808.3,374.7 C810.5,374.6 812.7,379.8 814.9,379.9 C817.0,380.0 819.7,375.6 821.4,376.0 C823.0,376.3 824.1,378.6 825.0,381.0 C826.7,385.5 826.2,393.4 826.7,402.4 C827.5,417.7 827.9,443.9 828.5,464.7 C829.1,485.5 829.6,508.9 830.3,527.0 C830.8,541.1 830.4,557.8 832.1,564.5 C832.8,567.2 833.8,569.8 834.7,569.8 C835.6,569.8 836.7,567.3 837.4,564.5 C839.4,556.8 838.7,535.3 839.2,518.2 C839.9,497.0 840.4,469.0 841.0,446.9 C841.6,427.8 841.4,407.3 842.8,393.5 C843.7,384.7 843.8,376.0 846.3,372.1 C847.7,369.9 850.0,368.3 851.7,368.5 C853.6,368.7 855.3,374.1 857.0,373.9 C858.9,373.7 860.8,364.8 862.4,365.0 C864.5,365.2 866.4,381.1 867.7,381.0 C869.2,380.8 869.6,365.5 870.4,357.8 C871.2,350.3 871.6,335.5 872.4,335.5 C873.2,335.5 872.9,355.9 875.0,356.4 C876.5,356.8 879.8,346.9 881.6,347.2 C883.9,347.6 884.5,360.3 886.8,364.2 C888.3,366.7 890.2,369.6 892.0,369.5 C894.1,369.4 896.4,361.6 898.6,361.6 C900.8,361.6 903.0,369.4 905.1,369.5 C906.9,369.6 908.5,364.1 910.3,364.2 C912.5,364.4 914.6,373.5 916.9,373.4 C919.7,373.3 922.5,360.2 926.0,359.0 C928.4,358.1 932.0,362.5 933.9,361.6 C936.0,360.6 936.4,352.6 937.8,352.5 C939.0,352.4 940.5,356.1 941.7,359.0 C943.7,363.7 945.5,378.7 947.0,378.6 C948.6,378.5 948.4,361.5 950.9,356.4 C952.5,353.0 955.0,349.2 957.2,349.2 C959.5,349.2 962.0,356.6 964.5,357.2 C966.4,357.7 968.7,354.6 970.4,355.0 C972.1,355.4 973.1,359.2 974.7,359.4 C976.4,359.6 978.1,356.0 980.6,355.8 C984.3,355.5 989.7,360.8 995.2,361.6 C1001.7,362.5 1011.9,358.1 1017.1,359.4 C1020.4,360.3 1021.9,363.3 1024.4,364.5 C1026.7,365.6 1029.3,365.6 1031.7,366.7 C1034.2,367.8 1037.1,368.9 1039.0,371.1 C1041.2,373.6 1042.3,377.6 1043.4,381.3 C1044.6,385.5 1044.9,389.1 1045.5,395.0 C1046.5,405.4 1046.5,422.9 1047.1,438.4 C1047.8,456.1 1048.6,476.9 1049.4,495.5 C1050.2,513.4 1050.5,535.6 1051.7,548.0 C1052.3,554.9 1053.3,563.9 1054.0,563.9 C1055.0,563.9 1055.5,542.6 1056.2,529.7 C1057.1,513.1 1057.7,490.6 1058.5,472.7 C1059.2,456.6 1059.4,438.8 1060.8,427.0 C1061.7,419.5 1061.9,411.8 1064.2,408.8 C1065.4,407.2 1067.4,406.2 1068.8,406.5 C1070.5,406.9 1071.7,412.0 1073.3,412.2 C1074.7,412.4 1076.1,408.8 1077.9,408.8 C1080.4,408.8 1084.6,412.6 1087.0,415.6 C1089.7,418.9 1090.2,426.2 1092.7,428.2 C1094.3,429.5 1096.7,430.1 1098.4,429.3 C1101.2,427.9 1102.6,419.8 1105.3,415.6 C1107.9,411.5 1111.2,408.2 1114.4,404.2 C1118.0,399.8 1121.8,391.8 1125.8,390.5 C1128.7,389.5 1131.9,391.3 1135.0,392.8 C1138.8,394.7 1143.3,398.6 1146.4,401.9 C1149.2,404.8 1151.4,406.9 1153.2,411.1 C1155.9,417.6 1156.6,427.2 1157.8,438.4 C1159.7,456.0 1160.0,482.4 1161.2,506.9 C1162.6,535.2 1164.2,571.3 1165.7,598.2 C1166.9,619.4 1168.0,641.0 1169.2,655.2 C1169.9,663.8 1170.5,675.7 1171.5,675.7 C1172.7,675.7 1174.8,657.2 1176.0,643.8 C1178.0,621.2 1178.3,577.7 1179.4,552.5 C1180.2,534.7 1180.4,519.1 1181.7,506.9 C1182.6,498.7 1183.7,486.5 1185.1,486.4 C1186.4,486.3 1188.0,504.6 1189.7,504.6 C1191.4,504.6 1193.9,485.1 1195.4,485.2 C1196.9,485.3 1196.7,501.4 1198.8,504.6 C1199.7,506.1 1201.3,505.3 1202.2,506.9 C1205.3,512.4 1203.2,537.0 1204.5,552.5 C1205.8,568.9 1208.5,602.7 1210.2,602.7 C1211.9,602.7 1213.1,567.6 1214.8,552.5 C1216.2,540.0 1217.5,529.5 1219.4,518.3 C1221.3,507.4 1222.2,488.7 1226.2,486.4 C1228.1,485.3 1230.8,488.2 1233.1,488.6 C1235.3,488.9 1238.0,487.4 1239.9,488.6 C1242.5,490.2 1244.0,496.1 1245.6,500.0 C1247.2,503.9 1248.5,507.5 1249.5,512.0 C1250.7,517.3 1250.9,523.3 1251.5,530.0 C1252.3,538.3 1250.7,553.1 1253.5,558.0 C1254.9,560.5 1257.7,561.0 1259.4,562.0 C1260.6,562.7 1261.6,562.5 1262.5,563.5 C1264.1,565.4 1263.5,572.5 1265.7,574.5 C1267.5,576.2 1271.4,574.8 1273.5,576.1 C1275.6,577.4 1276.8,580.4 1278.2,582.4 C1279.4,584.1 1280.2,586.8 1281.4,587.1 C1282.3,587.3 1283.6,585.1 1284.5,585.5 C1286.7,586.7 1286.6,600.9 1287.6,609.0 C1288.7,617.6 1289.6,628.1 1290.8,635.7 C1291.7,641.4 1292.7,650.5 1293.9,650.6 C1294.9,650.6 1296.1,645.1 1297.1,640.4 C1299.1,630.5 1300.1,607.9 1301.8,593.3 C1303.3,580.5 1304.5,565.8 1306.5,557.3 C1307.7,552.5 1309.2,546.3 1310.4,546.3 C1311.6,546.3 1312.7,552.7 1313.5,557.3 C1314.8,564.5 1314.8,577.5 1315.9,585.5 C1316.7,591.5 1317.1,597.7 1319.0,601.2 C1320.2,603.5 1322.2,606.0 1323.7,605.9 C1325.3,605.8 1326.8,600.4 1328.4,600.4 C1330.0,600.4 1331.6,606.0 1333.1,605.9 C1334.7,605.8 1336.3,598.8 1337.8,598.8 C1339.2,598.8 1340.8,601.7 1341.8,604.3 C1343.6,608.8 1342.8,618.4 1344.1,624.7 C1345.3,630.3 1347.2,635.8 1348.8,640.4 C1350.1,644.2 1351.4,650.6 1352.7,650.6 C1354.0,650.6 1355.6,645.3 1356.7,640.4 C1359.1,629.5 1358.7,602.3 1359.8,585.5 C1360.8,571.3 1361.9,559.4 1362.9,546.3 C1364.0,533.2 1364.8,517.8 1366.1,507.1 C1367.0,499.6 1367.3,492.6 1369.2,488.2 C1370.4,485.4 1372.4,482.0 1373.9,482.0 C1375.5,482.0 1376.8,488.5 1378.6,489.0 C1380.0,489.4 1382.0,486.1 1383.3,486.7 C1385.9,487.9 1386.7,499.7 1388.0,507.1 C1389.5,515.7 1389.9,527.5 1391.2,535.3 C1392.1,540.8 1392.2,547.7 1394.3,549.4 C1395.5,550.4 1397.8,548.6 1399.0,549.4 C1400.7,550.5 1401.0,557.3 1402.2,557.3 C1403.6,557.4 1405.3,548.0 1406.9,547.8 C1407.9,547.6 1409.1,549.3 1410.0,551.0 C1411.9,554.3 1412.2,566.8 1414.7,568.2 C1416.0,568.9 1417.9,566.5 1419.4,566.7 C1421.0,566.9 1422.6,570.2 1424.1,569.8 C1426.4,569.2 1428.2,558.2 1430.4,558.0 C1432.4,557.9 1435.0,562.8 1436.7,566.7 C1439.3,572.9 1440.2,583.1 1441.4,593.3 C1443.0,606.7 1443.0,628.7 1444.5,640.4 C1445.4,647.4 1446.4,657.0 1447.6,657.0 C1448.8,657.0 1450.5,647.2 1451.8,640.3 C1453.8,629.2 1454.8,610.6 1456.7,596.7 C1458.5,584.0 1460.2,570.1 1462.7,560.3 C1464.5,553.5 1466.8,548.5 1468.8,543.3 C1470.5,538.9 1471.8,531.3 1473.6,531.2 C1475.4,531.1 1478.2,538.1 1479.7,543.3 C1482.1,551.2 1481.8,574.7 1483.3,574.8 C1484.7,574.8 1486.9,558.3 1488.2,548.2 C1489.9,535.0 1487.4,506.2 1491.8,502.1 C1493.4,500.6 1496.3,503.5 1497.9,502.1 C1501.3,499.2 1501.1,484.6 1502.7,475.5 C1504.4,466.0 1505.8,456.3 1507.6,446.4 C1509.4,436.1 1511.3,424.0 1513.6,414.8 C1515.4,407.5 1518.2,401.2 1519.7,395.5 C1520.8,391.0 1520.8,387.4 1522.1,383.3 C1523.5,378.9 1525.9,371.5 1528.2,370.0 C1529.3,369.3 1530.8,370.8 1531.8,370.0 C1534.3,368.1 1534.7,350.9 1536.7,350.6 C1538.1,350.4 1540.3,355.0 1541.5,359.1 C1544.1,367.8 1540.3,397.2 1543.9,402.7 C1545.2,404.7 1547.4,403.6 1548.8,405.2 C1551.1,407.9 1552.3,413.5 1553.6,419.7 C1555.8,430.2 1554.6,456.2 1557.3,463.3 C1558.3,466.0 1559.9,468.5 1560.9,468.2 C1563.0,467.7 1561.6,445.5 1564.5,441.5 C1565.8,439.7 1568.1,440.4 1569.4,439.1 C1571.0,437.5 1572.0,431.7 1573.0,431.8 C1574.6,432.0 1575.2,445.0 1576.7,451.2 C1578.1,457.1 1579.6,468.1 1581.5,468.2 C1583.3,468.3 1586.2,460.0 1587.8,453.0 C1590.9,439.3 1586.6,391.9 1591.0,389.9 C1592.4,389.3 1595.0,391.8 1596.4,394.2 C1598.8,398.3 1598.3,409.5 1599.7,415.0 C1600.6,418.7 1601.9,424.2 1602.8,424.1 C1605.0,423.8 1602.0,365.3 1606.0,360.0 C1606.9,358.8 1608.3,358.3 1609.2,358.9 C1612.5,361.1 1611.3,404.9 1612.4,404.9 C1613.5,404.9 1612.7,360.9 1615.6,356.7 C1616.2,355.8 1617.2,355.3 1617.8,355.7 C1619.6,356.8 1619.4,378.1 1619.4,378.1" fill="none" stroke="rgb(205,92,110)" stroke-width="10" stroke-linejoin="round" stroke-linecap="butt"/>
<path d="M86.6,137.3 C86.6,137.3 128.2,137.5 150.0,137.5 C173.2,137.5 194.7,137.4 222.0,137.5 C258.1,137.6 305.3,137.8 347.6,138.2 C390.7,138.6 457.8,139.6 478.0,140.0 C484.1,140.1 485.9,139.9 490.0,140.3 C494.4,140.7 499.5,141.1 503.5,142.4 C507.0,143.5 510.3,144.7 513.0,147.0 C515.8,149.4 518.0,152.9 519.8,156.6 C521.8,160.9 522.8,166.2 523.9,171.5 C525.1,177.4 525.7,183.8 526.6,190.5 C527.6,198.1 528.6,207.1 529.3,214.9 C529.9,222.0 530.2,229.1 530.7,235.2 C531.1,240.2 530.2,247.4 532.0,248.7 C533.1,249.5 535.5,246.8 536.8,247.4 C538.5,248.2 539.2,251.9 540.1,255.5 C541.7,261.8 542.0,274.5 542.9,282.6 C543.6,289.1 544.1,300.2 544.9,300.2 C545.5,300.2 546.3,293.8 546.9,289.4 C547.9,282.4 548.3,270.7 549.6,262.3 C550.7,255.0 552.0,248.3 553.7,242.0 C555.2,236.2 557.4,230.6 559.1,225.7 C560.5,221.7 561.8,214.9 563.2,214.9 C564.5,214.9 566.0,221.7 567.2,225.7 C568.7,230.5 570.1,237.0 571.3,242.0 C572.3,246.4 573.0,254.2 574.0,254.2 C575.0,254.2 576.5,246.9 577.4,242.0 C578.7,234.8 578.8,223.9 579.4,214.9 C580.0,205.9 579.9,195.7 580.8,187.8 C581.5,181.7 582.5,176.2 583.5,171.5 C584.3,167.9 584.8,164.9 586.2,162.0 C587.5,159.1 589.4,156.0 591.6,153.9 C593.6,152.0 596.0,151.4 598.4,149.8 C601.3,147.9 604.6,144.8 607.9,143.0 C611.0,141.3 613.9,139.7 617.4,139.0 C621.2,138.2 624.3,139.2 630.0,139.0 C642.3,138.6 667.9,136.2 688.0,135.4 C709.8,134.6 732.1,134.3 756.0,134.4 C782.8,134.5 810.3,136.0 841.0,136.1 C877.5,136.3 924.1,134.5 960.6,134.8 C991.4,135.0 1028.2,135.1 1045.7,137.1 C1053.6,138.0 1056.4,139.6 1062.8,140.5 C1070.8,141.6 1082.5,143.2 1090.0,142.9 C1095.3,142.7 1098.3,141.0 1103.6,140.5 C1111.1,139.8 1124.3,140.0 1130.9,140.5 C1134.8,140.8 1136.8,141.3 1140.0,142.0 C1143.5,142.8 1148.0,142.9 1151.0,145.0 C1154.1,147.2 1156.4,150.7 1158.2,155.3 C1161.0,162.5 1160.8,175.1 1162.1,185.4 C1163.4,196.2 1164.1,218.4 1166.1,218.6 C1167.4,218.8 1169.5,210.9 1170.8,205.9 C1172.6,199.3 1173.0,189.8 1174.8,182.2 C1176.5,174.8 1178.1,163.1 1181.1,160.8 C1182.5,159.8 1184.5,159.9 1185.9,160.8 C1188.0,162.2 1189.0,171.1 1190.6,171.1 C1192.2,171.1 1193.3,160.9 1195.4,160.0 C1196.8,159.4 1198.9,160.3 1200.1,161.6 C1202.1,163.7 1202.0,169.5 1203.3,174.3 C1205.0,180.7 1208.0,196.5 1209.6,196.4 C1211.1,196.3 1211.4,183.2 1212.8,177.4 C1214.1,172.3 1215.3,167.4 1217.5,163.2 C1219.6,159.3 1222.3,153.7 1225.4,152.9 C1228.2,152.2 1231.8,156.1 1234.9,156.9 C1237.6,157.6 1240.4,158.4 1242.8,157.7 C1245.2,157.0 1246.9,153.5 1249.1,152.9 C1251.1,152.4 1253.8,152.5 1255.5,153.7 C1257.7,155.3 1258.4,160.7 1260.2,163.2 C1261.6,165.2 1263.6,166.1 1264.9,168.0 C1266.3,170.2 1266.6,175.6 1268.1,175.9 C1269.7,176.2 1272.4,169.5 1274.4,169.5 C1276.1,169.5 1277.7,172.4 1279.2,174.3 C1280.9,176.5 1282.6,178.9 1283.9,182.2 C1285.8,187.0 1286.8,193.4 1287.9,201.2 C1289.7,213.4 1288.4,247.3 1291.8,248.6 C1293.1,249.1 1295.3,246.6 1296.6,243.9 C1299.9,237.0 1299.1,213.5 1301.3,201.2 C1303.0,191.6 1304.6,180.1 1307.6,175.9 C1309.0,173.9 1311.0,172.3 1312.4,172.7 C1314.6,173.4 1315.9,185.2 1317.9,185.4 C1319.6,185.6 1321.6,180.2 1323.5,177.4 C1325.6,174.4 1327.1,169.4 1329.8,168.0 C1332.0,166.8 1335.8,166.7 1337.7,168.0 C1339.9,169.5 1340.6,173.0 1341.6,177.4 C1343.6,186.2 1340.4,214.0 1344.0,218.6 C1345.3,220.2 1347.2,220.0 1348.8,220.1 C1350.4,220.2 1352.3,220.5 1353.5,219.4 C1355.7,217.3 1355.7,209.9 1356.7,204.3 C1357.9,197.3 1358.1,186.9 1359.8,180.6 C1361.0,176.1 1363.0,173.2 1364.6,169.5 C1366.2,165.8 1366.8,159.8 1369.3,158.5 C1371.3,157.4 1374.7,160.4 1377.2,160.0 C1379.8,159.6 1382.3,155.2 1384.6,155.7 C1387.5,156.4 1389.6,163.8 1392.2,167.1 C1394.4,170.0 1397.2,171.9 1399.0,174.7 C1400.8,177.5 1401.1,183.4 1402.8,183.9 C1404.1,184.3 1405.6,180.7 1407.4,180.8 C1410.0,180.9 1413.3,186.8 1416.5,188.4 C1419.4,189.9 1423.0,191.3 1425.6,190.7 C1428.0,190.1 1429.5,185.4 1431.7,185.4 C1434.1,185.4 1437.3,188.7 1439.3,191.5 C1441.7,194.9 1442.6,200.5 1443.9,205.2 C1445.2,210.1 1444.7,218.6 1446.9,220.4 C1448.1,221.4 1450.2,221.4 1451.5,220.4 C1454.3,218.2 1454.2,205.2 1456.0,199.1 C1457.4,194.4 1458.3,189.4 1460.6,186.9 C1462.2,185.1 1464.5,184.7 1466.7,183.9 C1469.0,183.1 1472.2,181.3 1474.3,182.3 C1477.0,183.5 1478.9,188.9 1480.4,193.0 C1482.1,197.8 1482.1,209.6 1483.4,209.7 C1484.6,209.8 1487.0,200.9 1488.0,196.0 C1489.1,190.8 1487.8,183.0 1489.5,179.3 C1490.5,177.0 1492.2,175.5 1494.0,174.7 C1495.8,174.0 1498.4,175.7 1500.1,174.7 C1502.3,173.4 1503.0,168.7 1504.7,165.6 C1506.5,162.2 1508.4,158.4 1510.8,155.0 C1513.4,151.3 1516.7,147.2 1519.9,144.3 C1522.8,141.7 1525.8,139.6 1529.0,138.2 C1531.9,136.9 1535.7,135.0 1538.2,136.0 C1540.9,137.1 1542.1,145.4 1544.2,145.9 C1545.7,146.2 1547.3,142.5 1548.8,142.8 C1550.9,143.2 1552.9,149.0 1554.9,151.9 C1556.7,154.6 1558.5,159.6 1560.2,159.5 C1562.1,159.4 1563.0,149.8 1565.5,148.9 C1567.5,148.1 1571.2,149.7 1573.1,151.9 C1576.0,155.2 1575.8,164.4 1577.7,170.2 C1579.4,175.6 1582.0,185.5 1583.8,185.4 C1585.5,185.3 1586.6,174.6 1588.3,170.2 C1589.7,166.7 1591.3,161.2 1592.9,161.1 C1594.4,161.0 1595.9,166.0 1597.5,168.7 C1599.2,171.6 1601.2,177.9 1602.8,177.8 C1604.7,177.6 1606.4,164.1 1608.1,164.1 C1609.7,164.1 1611.5,176.4 1612.7,176.3 C1614.3,176.1 1613.3,153.9 1615.5,153.0 C1616.5,152.6 1618.5,154.3 1619.3,156.0 C1620.9,159.3 1619.5,174.0 1619.5,174.0" fill="none" stroke="rgb(2,122,222)" stroke-width="10" stroke-linejoin="round" stroke-linecap="butt"/>
</g>
<line x1="834.5" y1="286.9" x2="836.0" y2="1150" stroke="#990000" stroke-width="6.6" stroke-dasharray="15.8 13.4"/>
<line x1="1172.5" y1="283.2" x2="1174.1" y2="1150" stroke="#990000" stroke-width="6.6" stroke-dasharray="15.8 13.4"/>
<line x1="473.0" y1="973.8" x2="503.8" y2="957.3" stroke="#000" stroke-width="2.2"/><polygon points="535.6,940.4 508.0,965.1 499.7,949.6" fill="#000"/>
<line x1="629.8" y1="886.4" x2="601.8" y2="863.2" stroke="#000" stroke-width="2.2"/><polygon points="574.0,840.3 607.3,856.5 596.2,870.0" fill="#000"/>
<line x1="763.1" y1="1110.2" x2="797.1" y2="1095.2" stroke="#000" stroke-width="2.2"/><polygon points="830.0,1080.7 800.6,1103.2 793.5,1087.2" fill="#000"/>
<line x1="1106.5" y1="1130.2" x2="1127.6" y2="1119.9" stroke="#000" stroke-width="2.2"/><polygon points="1160.0,1104.1 1131.5,1127.7 1123.8,1112.0" fill="#000"/>
<line x1="1234.0" y1="289.6" x2="1256.4" y2="276.6" stroke="#000" stroke-width="2.2"/><polygon points="1287.5,258.6 1260.7,284.2 1252.0,269.1" fill="#000"/>
<line x1="1421.9" y1="276.4" x2="1390.9" y2="248.9" stroke="#000" stroke-width="2.2"/><polygon points="1364.0,225.0 1396.7,242.4 1385.1,255.4" fill="#000"/>
<text x="601" y="937.5" font-size="57" fill="#000">2870</text>
<text x="643" y="1135.6" font-size="57" fill="#000">2243</text>
<text x="988.5" y="1144.2" font-size="57" fill="#000">1452</text>
<text x="1173" y="337.7" font-size="57" fill="#000" letter-spacing="-1.8">1171</text>
<text x="1369.5" y="325" font-size="57" fill="#000">1032</text>
<text x="1227" y="83.9" font-size="57" fill="#000" transform="translate(0,44) scale(1,1.09) translate(0,-44)">[</text>
<text x="1246" y="83.9" font-size="57" fill="#000">TMPP</text>
<text x="1394.9" y="83.9" font-size="57" fill="#000" transform="translate(0,44) scale(1,1.09) translate(0,-44)">]</text>
<text x="1414.5" y="59.9" font-size="40" fill="#000">-</text>
<text x="1578.2" y="1252" font-size="71" text-anchor="middle" fill="#000">500</text>
<text x="1365.1" y="1252" font-size="71" text-anchor="middle" fill="#000">1000</text>
<text x="1152.0" y="1252" font-size="71" text-anchor="middle" fill="#000">1500</text>
<text x="938.9" y="1252" font-size="71" text-anchor="middle" fill="#000">2000</text>
<text x="725.9" y="1252" font-size="71" text-anchor="middle" fill="#000">2500</text>
<text x="512.8" y="1252" font-size="71" text-anchor="middle" fill="#000">3000</text>
<text x="299.7" y="1252" font-size="71" text-anchor="middle" fill="#000">3500</text>
<text x="86.6" y="1252" font-size="71" text-anchor="middle" fill="#000">4000</text>
<text x="534.2" y="1382.7" font-size="76.5" font-weight="bold" fill="#000">Wavenumbers/cm<tspan font-size="51.5" dx="-1" dy="-31.5">-1</tspan></text>
</svg></body></html>
